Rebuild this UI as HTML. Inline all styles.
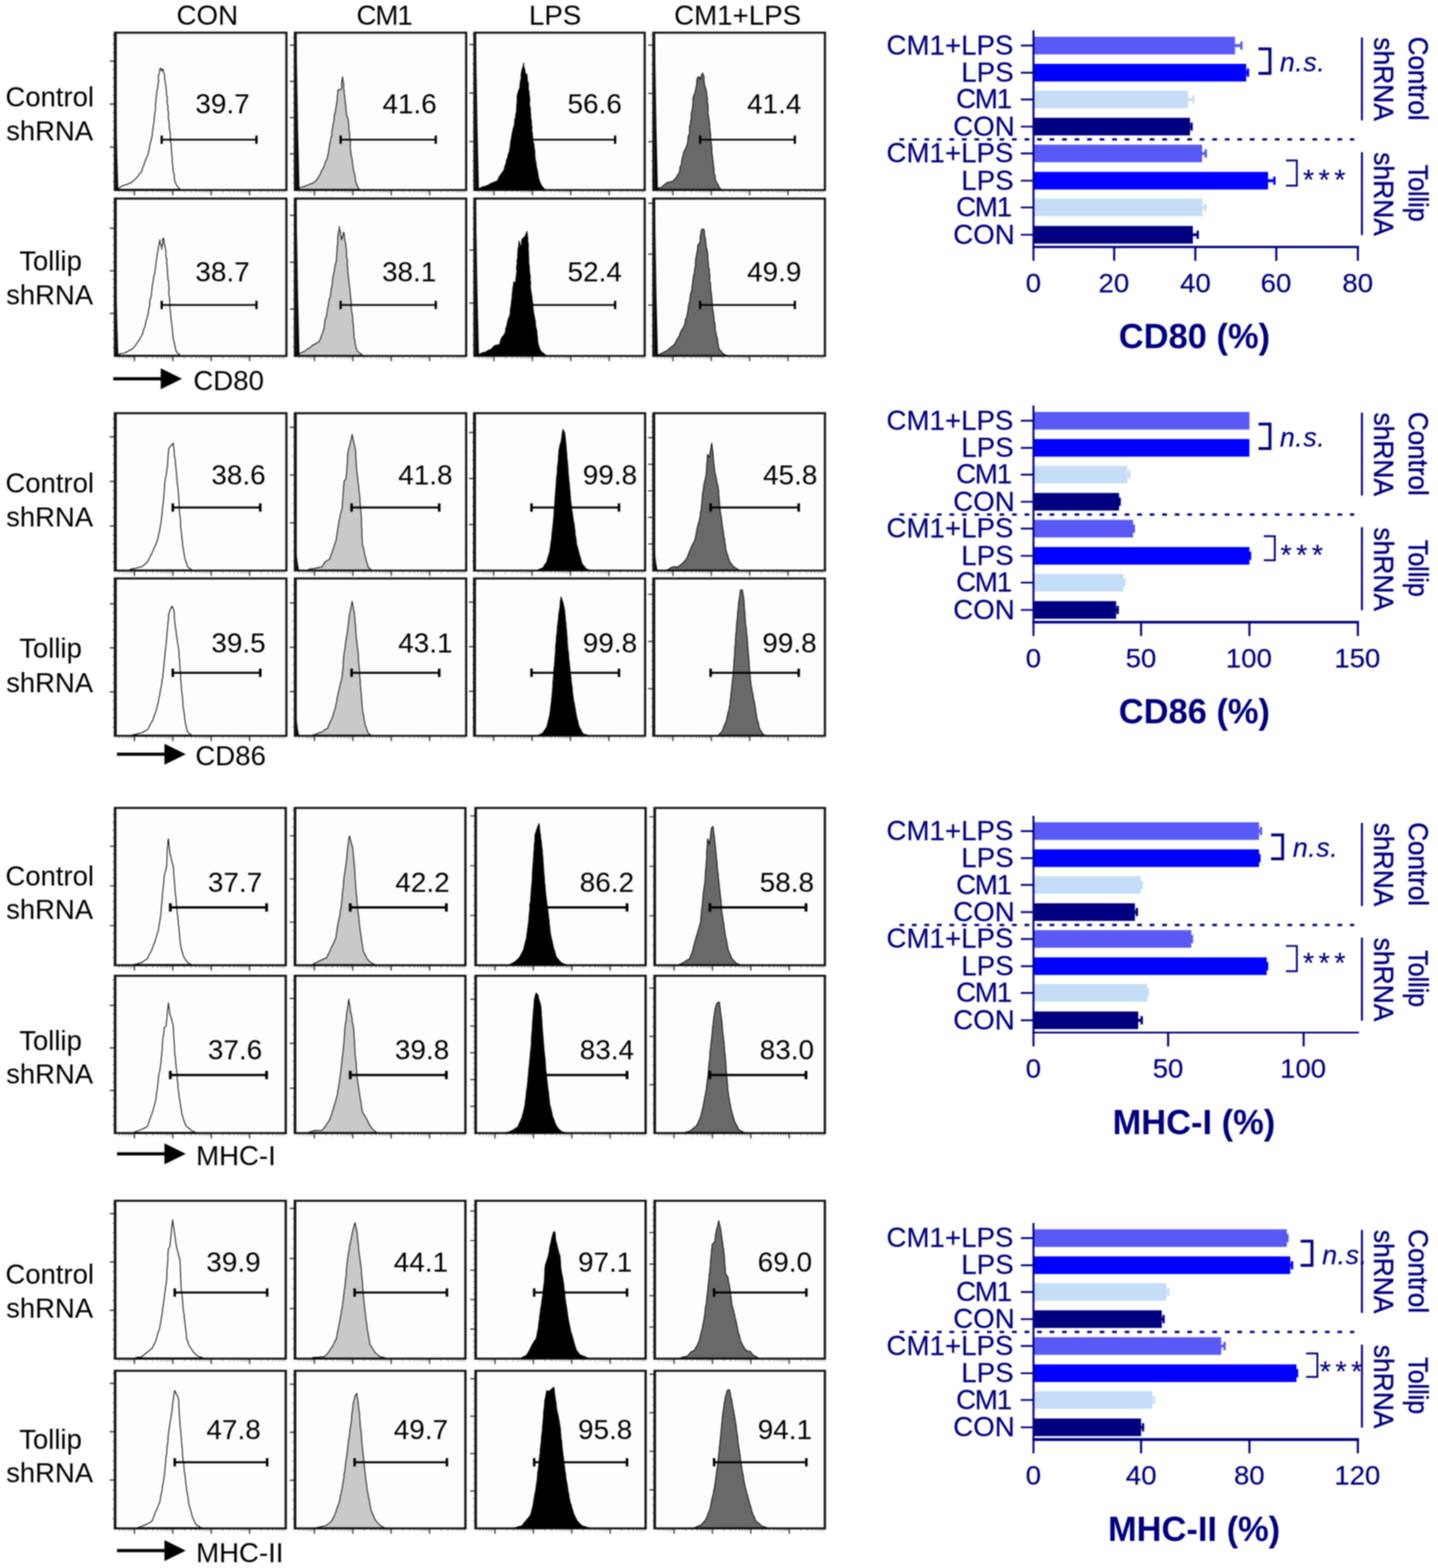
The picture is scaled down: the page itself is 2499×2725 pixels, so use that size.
<!DOCTYPE html>
<html lang="en"><head><meta charset="utf-8"><title>Tollip shRNA flow cytometry figure</title>
<style>
html,body{margin:0;padding:0;background:#fff;}
body{width:2499px;height:2725px;overflow:hidden;}
svg{display:block;font-family:"Liberation Sans", sans-serif;filter:blur(0.8px);}
text{white-space:pre;}
</style></head><body>
<svg xmlns="http://www.w3.org/2000/svg" width="2499" height="2725" viewBox="0 0 2499 2725">
<rect width="2499" height="2725" fill="#fff"/>
<path d="M207.16 331v4.6M213.62 331v4.6M218.9 331v4.6M223.37 331v4.6M227.24 331v4.6M230.65 331v4.6M253.78 331v4.6M265.52 331v4.6M273.86 331v4.6M280.32 331v4.6M285.6 331v4.6M290.07 331v4.6M293.94 331v4.6M297.35 331v4.6M320.48 331v4.6M332.22 331v4.6M340.56 331v4.6M347.02 331v4.6M352.3 331v4.6M356.77 331v4.6M360.64 331v4.6M364.05 331v4.6M387.18 331v4.6M398.92 331v4.6M407.26 331v4.6M413.72 331v4.6M419 331v4.6M423.47 331v4.6M427.34 331v4.6M430.75 331v4.6M453.88 331v4.6M465.62 331v4.6M473.96 331v4.6M480.42 331v4.6M485.7 331v4.6M490.17 331v4.6M494.04 331v4.6M198.7 315.36h-4M198.7 300.42h-4M198.7 285.48h-4M198.7 270.54h-4M198.7 240.66h-4M198.7 225.72h-4M198.7 210.78h-4M198.7 195.84h-4M198.7 165.96h-4M198.7 151.02h-4M198.7 136.08h-4M198.7 121.14h-4M198.7 91.26h-4M198.7 76.32h-4M198.7 61.38h-4" stroke="#3a3a3a" stroke-width="1.6" fill="none" opacity="0.42"/>
<path d="M233.7 331v8.5M300.4 331v8.5M367.1 331v8.5M433.8 331v8.5M198.7 255.6h-8M198.7 180.9h-8M198.7 106.2h-8" stroke="#222" stroke-width="2.2" fill="none" opacity="0.9"/>
<rect x="197.7" y="55" width="301.9" height="277" fill="#141414"/>
<rect x="202.9" y="58.6" width="292.9" height="270" fill="#fdfdfd"/>
<path d="M202.67 329.1L202.67 328.47L207.34 326.69L211.37 323.64L216.01 321.8L220.69 320.76L224.9 318.46L229.35 316.8L232.58 313.36L236.14 310.25L239.36 306.8L242.3 302.32L246.03 298.46L247.26 293.31L249.25 288.42L251.03 283.45L252.87 277.74L255.71 272.43L257.7 266.78L258.58 262.08L259.53 257.4L260.37 252.7L261.29 248.01L262.7 243.43L263.74 238.71L264.73 233.99L264.62 229.1L266.01 224.44L266 219.57L267.37 214.9L267.7 210.08L267.79 205.28L268.76 200.56L268.99 195.77L270.16 191.08L270.47 186.3L269.98 181.44L271.04 176.73L271 171.66L272.09 166.72L272.28 161.68L272.87 156.68L274.49 151.79L274.37 146.72L275.7 141.46L274.99 135.95L275.66 130.62L277.23 125.39L277.71 120.04L279.38 118.37L281.04 123.37L283.38 120.04L284.06 125.21L286.05 130.04L286.02 135.11L286.87 140.08L287.36 145.09L288.29 150.05L288.84 155.05L289.38 160.06L289.26 165.1L290.8 170.01L290.36 175.09L290.72 180.09L291.98 185.02L291.48 190.1L292.79 195.03L292.72 200.08L292.43 204.72L293.15 209.28L294.03 213.83L294.26 218.43L294.09 223.07L295.41 227.57L296.08 232.13L296.05 236.76L296.18 241.79L296.28 246.82L297.81 251.72L297.32 256.8L298.3 261.76L298.27 266.8L299 271.77L299.39 276.78L299.27 282.13L300.38 287.35L300.36 292.69L300.92 297.97L302.72 303.12L302.72 308.46L303.76 314.48L306.06 320.14L309.07 325.03L312.73 329.1L312.73 329.1Z" fill="none" stroke="#000" stroke-width="1.5" stroke-linejoin="round"/>
<path d="M202.4 209.1L204.07 281.1L205.5 328.1L205.5 329.1L202.4 329.1Z" fill="#050505"/>
<path d="M280 242.7H446.7" stroke="#000" stroke-width="3.1" fill="none"/><path d="M281 235.5v14.4M445.7 235.5v14.4" stroke="#000" stroke-width="3.9000000000000004" fill="none"/>
<path d="M520.06 331v4.6M526.52 331v4.6M531.8 331v4.6M536.27 331v4.6M540.14 331v4.6M543.55 331v4.6M566.68 331v4.6M578.42 331v4.6M586.76 331v4.6M593.22 331v4.6M598.5 331v4.6M602.97 331v4.6M606.84 331v4.6M610.25 331v4.6M633.38 331v4.6M645.12 331v4.6M653.46 331v4.6M659.92 331v4.6M665.2 331v4.6M669.67 331v4.6M673.54 331v4.6M676.95 331v4.6M700.08 331v4.6M711.82 331v4.6M720.16 331v4.6M726.62 331v4.6M731.9 331v4.6M736.37 331v4.6M740.24 331v4.6M743.65 331v4.6M766.78 331v4.6M778.52 331v4.6M786.86 331v4.6M793.32 331v4.6M798.6 331v4.6M803.07 331v4.6M806.94 331v4.6M511.6 317.7h-4M511.6 305.1h-4M511.6 292.5h-4M511.6 279.9h-4M511.6 254.7h-4M511.6 242.1h-4M511.6 229.5h-4M511.6 216.9h-4M511.6 191.7h-4M511.6 179.1h-4M511.6 166.5h-4M511.6 153.9h-4M511.6 128.7h-4M511.6 116.1h-4M511.6 103.5h-4M511.6 90.9h-4M511.6 65.7h-4" stroke="#3a3a3a" stroke-width="1.6" fill="none" opacity="0.42"/>
<path d="M546.6 331v8.5M613.3 331v8.5M680 331v8.5M746.7 331v8.5M511.6 267.3h-8M511.6 204.3h-8M511.6 141.3h-8M511.6 78.3h-8" stroke="#222" stroke-width="2.2" fill="none" opacity="0.9"/>
<rect x="510.6" y="55" width="301.4" height="277" fill="#141414"/>
<rect x="515.8" y="58.6" width="292.4" height="270" fill="#fdfdfd"/>
<path d="M513.49 329.1L513.49 328.47L518.82 326.78L524.24 325.38L529.5 323.47L535.13 321.41L540.73 319.3L546.18 316.8L549.99 312.72L553.15 308.13L556.18 303.46L557.95 298.79L560.25 294.38L562.85 290.12L564.45 285.1L566.03 280.06L568.51 275.33L569.52 270.11L570.86 264.84L571.47 259.43L572.3 254.06L573.12 248.69L574.52 243.43L575.51 238.45L576.82 233.53L576.53 228.34L577.79 223.41L578.46 218.38L579.53 213.42L580.52 208.44L580.83 203.35L581.38 198.3L583.12 193.45L583.41 188.35L584.53 183.4L585.21 178.08L586.07 172.78L586.05 167.4L587.01 162.11L586.86 156.72L592.87 155.05L593.98 149.69L593.55 144.13L594.49 138.75L595.53 133.38L595.76 138.07L596.5 142.71L597.67 147.31L596.92 152.1L597.87 156.72L598.12 161.51L598.92 166.24L599.26 171.02L600.26 175.73L600.18 180.55L601.26 185.25L601.2 190.07L601.96 195.45L602.55 200.86L604.62 206L605.55 211.35L606.21 216.75L606.43 221.43L606.31 226.13L607.7 230.72L607.7 235.41L607.72 240.11L608.71 244.73L609.18 249.39L608.5 254.13L609.02 258.78L609.54 263.44L610.14 268.22L610.9 272.98L612.27 277.64L612.43 282.49L613.13 287.26L613.81 292.03L614.54 296.79L616.04 301.35L617.18 305.99L617.52 310.8L618.26 315.53L619.55 320.14L621.82 324.92L624.55 329.1L624.55 329.1Z" fill="#c9c9c9" stroke="#0a0a0a" stroke-width="1.5" stroke-linejoin="round"/>
<path d="M515.3 61.1L517.87 221.9L520.4 328.1L520.4 329.1L515.3 329.1Z" fill="#050505"/>
<path d="M591 242.7H758.3" stroke="#000" stroke-width="3.1" fill="none"/><path d="M592 235.5v14.4M757.3 235.5v14.4" stroke="#000" stroke-width="3.9000000000000004" fill="none"/>
<path d="M831.96 331v4.6M838.42 331v4.6M843.7 331v4.6M848.17 331v4.6M852.04 331v4.6M855.45 331v4.6M878.58 331v4.6M890.32 331v4.6M898.66 331v4.6M905.12 331v4.6M910.4 331v4.6M914.87 331v4.6M918.74 331v4.6M922.15 331v4.6M945.28 331v4.6M957.02 331v4.6M965.36 331v4.6M971.82 331v4.6M977.1 331v4.6M981.57 331v4.6M985.44 331v4.6M988.85 331v4.6M1011.98 331v4.6M1023.72 331v4.6M1032.06 331v4.6M1038.52 331v4.6M1043.8 331v4.6M1048.27 331v4.6M1052.14 331v4.6M1055.55 331v4.6M1078.68 331v4.6M1090.42 331v4.6M1098.76 331v4.6M1105.22 331v4.6M1110.5 331v4.6M1114.97 331v4.6M1118.84 331v4.6M823.5 313.44h-4M823.5 296.58h-4M823.5 279.72h-4M823.5 262.86h-4M823.5 229.14h-4M823.5 212.28h-4M823.5 195.42h-4M823.5 178.56h-4M823.5 144.84h-4M823.5 127.98h-4M823.5 111.12h-4M823.5 94.26h-4M823.5 60.54h-4" stroke="#3a3a3a" stroke-width="1.6" fill="none" opacity="0.42"/>
<path d="M858.5 331v8.5M925.2 331v8.5M991.9 331v8.5M1058.6 331v8.5M823.5 246h-8M823.5 161.7h-8M823.5 77.4h-8" stroke="#222" stroke-width="2.2" fill="none" opacity="0.9"/>
<rect x="822.5" y="55" width="299.8" height="277" fill="#141414"/>
<rect x="827.7" y="58.6" width="290.8" height="270" fill="#fdfdfd"/>
<path d="M825 329.1L825 328.47L833.34 327.47L838.08 324.82L843.35 323.47L848.59 321.46L853.35 318.47L859.32 316.27L865.02 313.47L866.88 308.14L870.03 303.46L873.09 299.34L876.03 295.12L876.98 289.47L879.25 284.14L880.03 278.45L882.2 273.61L883.08 268.35L885.03 263.44L886.01 258.04L886.69 252.6L887.21 247.13L888.37 241.76L889.1 237.16L889.88 232.56L890.82 228L891.7 223.42L893.45 218.56L894.21 213.49L894.28 208.27L896.04 203.41L896.23 198.39L897.57 193.46L897.68 188.44L897.86 183.41L898.34 178.42L898.81 173.42L898.45 168.35L899.37 163.39L901.24 157.51L903.38 151.72L903.71 146.4L904.25 141.1L905.66 135.91L905.35 130.51L906.23 125.26L907.38 120.04L909.02 114.78L910.05 109.36L910.35 115.23L912.12 120.88L912.71 126.71L916.05 130.04L916.11 135.1L916.72 140.1L918.32 144.99L918.38 150.05L918.13 154.91L919.62 159.65L919.54 164.5L920.49 169.27L920.84 174.09L920.36 178.97L920.47 183.81L921.93 188.54L921.72 193.41L922.39 197.97L922.39 202.59L922.83 207.17L923.92 211.7L923.51 216.36L924.81 220.87L923.99 225.56L925.05 230.09L925.47 235.46L926.14 240.79L926.42 246.18L928.11 251.38L928.39 256.77L929.5 262.05L929.53 267.47L929.8 272.85L930.41 278.19L931.72 283.45L932.12 288.53L933.24 293.48L934.43 298.42L935.06 303.46L936.31 310.23L938.39 316.8L941.73 323.47L946.73 329.1L946.73 329.1Z" fill="#000000" stroke="#000000" stroke-width="1.2" stroke-linejoin="round"/>
<path d="M827.2 61.1L829.77 221.9L832.3 328.1L832.3 329.1L827.2 329.1Z" fill="#050505"/>
<path d="M903.3 242.7H1070" stroke="#000" stroke-width="3.1" fill="none"/><path d="M904.3 235.5v14.4M1069 235.5v14.4" stroke="#000" stroke-width="3.9000000000000004" fill="none"/>
<path d="M1142.96 331v4.6M1149.42 331v4.6M1154.7 331v4.6M1159.17 331v4.6M1163.04 331v4.6M1166.45 331v4.6M1189.58 331v4.6M1201.32 331v4.6M1209.66 331v4.6M1216.12 331v4.6M1221.4 331v4.6M1225.87 331v4.6M1229.74 331v4.6M1233.15 331v4.6M1256.28 331v4.6M1268.02 331v4.6M1276.36 331v4.6M1282.82 331v4.6M1288.1 331v4.6M1292.57 331v4.6M1296.44 331v4.6M1299.85 331v4.6M1322.98 331v4.6M1334.72 331v4.6M1343.06 331v4.6M1349.52 331v4.6M1354.8 331v4.6M1359.27 331v4.6M1363.14 331v4.6M1366.55 331v4.6M1389.68 331v4.6M1401.42 331v4.6M1409.76 331v4.6M1416.22 331v4.6M1421.5 331v4.6M1425.97 331v4.6M1429.84 331v4.6M1134.5 313.5h-4M1134.5 296.7h-4M1134.5 279.9h-4M1134.5 263.1h-4M1134.5 229.5h-4M1134.5 212.7h-4M1134.5 195.9h-4M1134.5 179.1h-4M1134.5 145.5h-4M1134.5 128.7h-4M1134.5 111.9h-4M1134.5 95.1h-4M1134.5 61.5h-4" stroke="#3a3a3a" stroke-width="1.6" fill="none" opacity="0.42"/>
<path d="M1169.5 331v8.5M1236.2 331v8.5M1302.9 331v8.5M1369.6 331v8.5M1134.5 246.3h-8M1134.5 162.3h-8M1134.5 78.3h-8" stroke="#222" stroke-width="2.2" fill="none" opacity="0.9"/>
<rect x="1133.5" y="55" width="302" height="277" fill="#141414"/>
<rect x="1138.7" y="58.6" width="293" height="270" fill="#fdfdfd"/>
<path d="M1140.16 329.1L1140.16 328.47L1145.04 326.44L1150.17 325.14L1154.78 320.51L1160.17 316.8L1168.51 315.13L1172.02 311.97L1175.18 308.46L1177.35 304.1L1180.18 300.13L1181.36 295.5L1181.67 290.68L1183.89 286.27L1184.44 281.5L1185.18 276.78L1186.55 271.13L1187.89 265.48L1190.19 260.11L1192.33 255.84L1194.08 251.42L1195.19 246.77L1195.57 242.15L1195.85 237.51L1197.77 233.1L1198.28 228.5L1198.26 223.83L1198.36 219.17L1199.94 214.72L1200.19 210.08L1201.45 205.34L1201.01 200.41L1201.66 195.61L1202.96 190.87L1203.34 186.04L1204.15 181.25L1204.26 176.38L1204.24 171.5L1205.19 166.73L1207.5 161.94L1208.53 156.72L1209.82 151.37L1210.74 145.96L1210.78 140.42L1211.86 135.04L1215.2 133.38L1216.87 138.38L1218.59 132.45L1220.87 126.71L1223.54 133.38L1223.38 139L1224.01 144.56L1225.2 150.05L1226.9 155.49L1228.04 161.04L1228.54 166.73L1229.5 171.68L1229.13 176.75L1230.16 181.7L1230.7 186.69L1230.59 191.74L1230.35 196.8L1231.49 201.74L1231.87 206.75L1232.91 211.27L1233.24 215.87L1233.42 220.47L1233.79 225.06L1234.39 229.63L1235 234.2L1235.03 238.82L1235.21 243.43L1236.1 248.15L1236.6 252.91L1237.26 257.66L1237.01 262.5L1237.21 267.29L1238.29 271.99L1238.54 276.78L1239.59 281.39L1239.59 286.11L1240.58 290.72L1240.96 295.4L1240.88 300.13L1242.67 305.59L1243.18 311.39L1245.21 316.8L1248.31 321.5L1250.22 326.81L1253.55 329.1L1253.55 329.1Z" fill="#696969" stroke="#0a0a0a" stroke-width="1.5" stroke-linejoin="round"/>
<path d="M1138.2 61.1L1140.77 221.9L1143.3 328.1L1143.3 329.1L1138.2 329.1Z" fill="#050505"/>
<path d="M1215.7 242.7H1382.3" stroke="#000" stroke-width="3.1" fill="none"/><path d="M1216.7 235.5v14.4M1381.3 235.5v14.4" stroke="#000" stroke-width="3.9000000000000004" fill="none"/>
<path d="M207.16 619.3v4.6M213.62 619.3v4.6M218.9 619.3v4.6M223.37 619.3v4.6M227.24 619.3v4.6M230.65 619.3v4.6M253.78 619.3v4.6M265.52 619.3v4.6M273.86 619.3v4.6M280.32 619.3v4.6M285.6 619.3v4.6M290.07 619.3v4.6M293.94 619.3v4.6M297.35 619.3v4.6M320.48 619.3v4.6M332.22 619.3v4.6M340.56 619.3v4.6M347.02 619.3v4.6M352.3 619.3v4.6M356.77 619.3v4.6M360.64 619.3v4.6M364.05 619.3v4.6M387.18 619.3v4.6M398.92 619.3v4.6M407.26 619.3v4.6M413.72 619.3v4.6M419 619.3v4.6M423.47 619.3v4.6M427.34 619.3v4.6M430.75 619.3v4.6M453.88 619.3v4.6M465.62 619.3v4.6M473.96 619.3v4.6M480.42 619.3v4.6M485.7 619.3v4.6M490.17 619.3v4.6M494.04 619.3v4.6M198.7 603.8h-4M198.7 589h-4M198.7 574.2h-4M198.7 559.4h-4M198.7 529.8h-4M198.7 515h-4M198.7 500.2h-4M198.7 485.4h-4M198.7 455.8h-4M198.7 441h-4M198.7 426.2h-4M198.7 411.4h-4M198.7 381.8h-4M198.7 367h-4M198.7 352.2h-4" stroke="#3a3a3a" stroke-width="1.6" fill="none" opacity="0.42"/>
<path d="M233.7 619.3v8.5M300.4 619.3v8.5M367.1 619.3v8.5M433.8 619.3v8.5M198.7 544.6h-8M198.7 470.6h-8M198.7 396.6h-8" stroke="#222" stroke-width="2.2" fill="none" opacity="0.9"/>
<rect x="197.7" y="343.3" width="301.9" height="277" fill="#141414"/>
<rect x="202.9" y="346.9" width="292.9" height="270" fill="#fdfdfd"/>
<path d="M202.67 617.4L202.67 616.95L209.19 614.68L216.01 613.62L220.51 611.5L224.83 609.03L229.35 606.95L234 602.34L237.69 596.94L240.61 592.58L243.27 588.06L246.03 583.6L248.32 578.81L249.06 573.49L251.52 568.76L252.7 563.59L253.69 558.56L255.18 553.64L256.72 548.74L257.59 543.68L258.41 538.61L259.37 533.58L260.53 528.88L260.09 523.94L261.4 519.27L262.76 514.6L263.31 509.81L263.58 504.98L264.37 500.23L264.8 495.16L265.81 490.18L266.76 485.2L267.13 480.12L269.18 475.32L269.37 470.21L270.3 465.48L270.84 460.69L271.04 455.85L271.97 451.11L272.81 446.37L273.13 441.55L274.37 436.86L274.96 431.82L275.84 426.82L277.22 421.91L277.71 416.85L278.22 422.53L280.65 427.82L281.04 433.53L281.17 428.45L282.9 423.59L282.31 418.42L283.71 413.52L285.07 418.45L285.62 423.54L286.66 428.53L287.71 433.53L288.55 438.07L288.17 442.73L288.65 447.31L290.12 451.8L289.48 456.48L290.4 461.02L290.64 465.62L291.05 470.21L291.27 474.89L291.49 479.56L291.6 484.25L292.86 488.85L293.18 493.52L293.49 498.19L293.86 502.86L293.28 507.59L293.51 512.27L294.38 516.9L295 521.89L294.94 526.93L295.2 531.94L295.51 536.96L296.06 541.95L296.76 546.93L296.85 551.95L297.72 556.92L298.46 561.66L298.53 566.46L299.49 571.18L299.77 575.96L300.28 580.72L300.58 585.51L301.05 590.27L303.03 595.09L303.65 600.25L304.81 605.28L306.06 610.28L308.96 614.05L312.73 616.95L312.73 617.4Z" fill="none" stroke="#000" stroke-width="1.5" stroke-linejoin="round"/>
<path d="M202.4 497.4L204.07 569.4L205.5 616.4L205.5 617.4L202.4 617.4Z" fill="#050505"/>
<path d="M280 530H446.7" stroke="#000" stroke-width="3.1" fill="none"/><path d="M281 522.8v14.4M445.7 522.8v14.4" stroke="#000" stroke-width="3.9000000000000004" fill="none"/>
<path d="M520.06 619.3v4.6M526.52 619.3v4.6M531.8 619.3v4.6M536.27 619.3v4.6M540.14 619.3v4.6M543.55 619.3v4.6M566.68 619.3v4.6M578.42 619.3v4.6M586.76 619.3v4.6M593.22 619.3v4.6M598.5 619.3v4.6M602.97 619.3v4.6M606.84 619.3v4.6M610.25 619.3v4.6M633.38 619.3v4.6M645.12 619.3v4.6M653.46 619.3v4.6M659.92 619.3v4.6M665.2 619.3v4.6M669.67 619.3v4.6M673.54 619.3v4.6M676.95 619.3v4.6M700.08 619.3v4.6M711.82 619.3v4.6M720.16 619.3v4.6M726.62 619.3v4.6M731.9 619.3v4.6M736.37 619.3v4.6M740.24 619.3v4.6M743.65 619.3v4.6M766.78 619.3v4.6M778.52 619.3v4.6M786.86 619.3v4.6M793.32 619.3v4.6M798.6 619.3v4.6M803.07 619.3v4.6M806.94 619.3v4.6M511.6 602.3h-4M511.6 586h-4M511.6 569.7h-4M511.6 553.4h-4M511.6 520.8h-4M511.6 504.5h-4M511.6 488.2h-4M511.6 471.9h-4M511.6 439.3h-4M511.6 423h-4M511.6 406.7h-4M511.6 390.4h-4M511.6 357.8h-4" stroke="#3a3a3a" stroke-width="1.6" fill="none" opacity="0.42"/>
<path d="M546.6 619.3v8.5M613.3 619.3v8.5M680 619.3v8.5M746.7 619.3v8.5M511.6 537.1h-8M511.6 455.6h-8M511.6 374.1h-8" stroke="#222" stroke-width="2.2" fill="none" opacity="0.9"/>
<rect x="510.6" y="343.3" width="301.4" height="277" fill="#141414"/>
<rect x="515.8" y="346.9" width="292.4" height="270" fill="#fdfdfd"/>
<path d="M513.49 617.4L513.49 616.95L518.83 614.74L524.22 612.64L529.5 610.28L533.77 606.71L538.78 604.13L542.84 600.28L548.85 597.24L554.51 593.61L557.1 588.19L558.9 582.47L561.18 576.93L562.63 572.26L563.43 567.47L564.18 562.66L564.41 557.76L565.87 553.09L567.59 548.48L567.85 543.58L568.89 538.83L569.58 534.02L570.9 529.33L571.14 524.42L572.36 519.71L573.98 515.08L574.52 510.23L575.19 505.46L575.78 500.68L577.37 496.04L577.41 491.18L578.02 486.4L578.19 481.55L579.53 476.88L580.67 471.57L581.52 466.21L582.21 460.81L584.16 455.66L584.53 450.2L585.04 444.97L585.25 439.72L586.07 434.51L585.71 429.23L586.91 424.04L586.81 418.77L586.86 413.52L587.35 408.49L588.13 403.5L589.56 398.6L589.53 393.51L590.17 398.2L591.85 402.72L591.41 407.6L592.86 412.16L593.53 416.85L594.47 412.32L595.96 407.95L597.2 403.51L598.44 408.1L598.56 412.89L599.43 417.55L600.46 422.18L601.2 426.86L601.65 431.86L602.28 436.84L602.17 441.89L602.37 446.91L603.96 451.81L603.51 456.89L603.66 461.91L604.54 466.88L604.3 471.95L605.12 476.92L605.36 481.95L606.33 486.91L606.52 491.94L607.18 496.93L608.41 501.86L608.22 506.93L608.86 511.92L609.54 516.9L609.91 521.91L610.76 526.87L610.13 531.96L610.75 536.95L611.2 541.95L612.43 546.88L612.95 551.88L612.88 556.92L613.85 561.88L614.05 566.91L614.61 571.9L614.51 576.97L615.53 581.92L615.14 587.01L617.04 591.87L616.88 596.94L618.47 601.34L619.23 606.01L621.21 610.28L625.38 613.62L629.55 616.95L629.55 617.4Z" fill="#c9c9c9" stroke="#0a0a0a" stroke-width="1.5" stroke-linejoin="round"/>
<path d="M515.3 349.4L517.87 510.2L520.4 616.4L520.4 617.4L515.3 617.4Z" fill="#050505"/>
<path d="M591 530H758.3" stroke="#000" stroke-width="3.1" fill="none"/><path d="M592 522.8v14.4M757.3 522.8v14.4" stroke="#000" stroke-width="3.9000000000000004" fill="none"/>
<path d="M831.96 619.3v4.6M838.42 619.3v4.6M843.7 619.3v4.6M848.17 619.3v4.6M852.04 619.3v4.6M855.45 619.3v4.6M878.58 619.3v4.6M890.32 619.3v4.6M898.66 619.3v4.6M905.12 619.3v4.6M910.4 619.3v4.6M914.87 619.3v4.6M918.74 619.3v4.6M922.15 619.3v4.6M945.28 619.3v4.6M957.02 619.3v4.6M965.36 619.3v4.6M971.82 619.3v4.6M977.1 619.3v4.6M981.57 619.3v4.6M985.44 619.3v4.6M988.85 619.3v4.6M1011.98 619.3v4.6M1023.72 619.3v4.6M1032.06 619.3v4.6M1038.52 619.3v4.6M1043.8 619.3v4.6M1048.27 619.3v4.6M1052.14 619.3v4.6M1055.55 619.3v4.6M1078.68 619.3v4.6M1090.42 619.3v4.6M1098.76 619.3v4.6M1105.22 619.3v4.6M1110.5 619.3v4.6M1114.97 619.3v4.6M1118.84 619.3v4.6M823.5 600.2h-4M823.5 581.8h-4M823.5 563.4h-4M823.5 545h-4M823.5 508.2h-4M823.5 489.8h-4M823.5 471.4h-4M823.5 453h-4M823.5 416.2h-4M823.5 397.8h-4M823.5 379.4h-4M823.5 361h-4" stroke="#3a3a3a" stroke-width="1.6" fill="none" opacity="0.42"/>
<path d="M858.5 619.3v8.5M925.2 619.3v8.5M991.9 619.3v8.5M1058.6 619.3v8.5M823.5 526.6h-8M823.5 434.6h-8" stroke="#222" stroke-width="2.2" fill="none" opacity="0.9"/>
<rect x="822.5" y="343.3" width="299.8" height="277" fill="#141414"/>
<rect x="827.7" y="346.9" width="290.8" height="270" fill="#fdfdfd"/>
<path d="M825 617.4L825 616.95L833.34 615.28L838.13 612.98L843.35 611.95L848.07 608.89L853.35 606.95L856.59 603.51L860.02 600.28L868.36 598.61L869.46 592.61L871.69 586.94L875.53 582.27L878.36 576.93L878.79 571.24L880.64 565.82L881.7 560.26L883.12 554.62L885.54 549.29L886.7 543.58L886.86 538.18L887.79 532.88L888.45 527.54L888.99 522.19L890.04 516.9L889.82 511.49L891.01 506.22L891.02 500.83L892.32 495.57L892.7 490.22L896.71 490.22L896.33 485.51L896.96 480.87L897.43 476.21L898.38 471.58L897.43 466.84L897.77 462.18L899.01 457.56L898.12 452.83L899.72 448.23L899.37 443.53L899.95 438.54L899.96 433.49L901.28 428.57L901.64 423.56L901.71 418.52L903.6 424.29L905.04 430.19L906.27 425.26L906.16 420.12L907.38 415.18L911.71 411.85L913.87 406.91L915.71 401.84L916.51 407.68L917.38 413.52L917.16 418.39L918.14 423.2L918.26 428.06L917.95 432.94L918.58 437.77L918.56 442.63L918.87 447.48L919.07 452.33L918.98 457.2L919.83 462.02L920.05 466.88L920.17 471.71L920.98 476.5L921.86 481.27L921.15 486.17L922.38 490.92L921.79 495.82L922.03 500.64L922.78 505.43L923.39 510.23L924.45 514.94L924.77 519.73L925.26 524.5L926.31 529.21L926.31 534.04L926.71 538.83L927.39 543.58L928.5 548.88L929.58 554.18L930.6 559.49L930.67 564.96L931.72 570.26L933.11 575.51L933.28 580.9L934.13 586.22L934.34 591.61L935.06 596.94L936.41 601.5L937.82 606.05L940.06 610.28L944.1 613.78L948.4 616.95L948.4 617.4Z" fill="#000000" stroke="#000000" stroke-width="1.2" stroke-linejoin="round"/>
<path d="M827.2 349.4L829.77 510.2L832.3 616.4L832.3 617.4L827.2 617.4Z" fill="#050505"/>
<path d="M903.3 530H1070" stroke="#000" stroke-width="3.1" fill="none"/><path d="M904.3 522.8v14.4M1069 522.8v14.4" stroke="#000" stroke-width="3.9000000000000004" fill="none"/>
<path d="M1142.96 619.3v4.6M1149.42 619.3v4.6M1154.7 619.3v4.6M1159.17 619.3v4.6M1163.04 619.3v4.6M1166.45 619.3v4.6M1189.58 619.3v4.6M1201.32 619.3v4.6M1209.66 619.3v4.6M1216.12 619.3v4.6M1221.4 619.3v4.6M1225.87 619.3v4.6M1229.74 619.3v4.6M1233.15 619.3v4.6M1256.28 619.3v4.6M1268.02 619.3v4.6M1276.36 619.3v4.6M1282.82 619.3v4.6M1288.1 619.3v4.6M1292.57 619.3v4.6M1296.44 619.3v4.6M1299.85 619.3v4.6M1322.98 619.3v4.6M1334.72 619.3v4.6M1343.06 619.3v4.6M1349.52 619.3v4.6M1354.8 619.3v4.6M1359.27 619.3v4.6M1363.14 619.3v4.6M1366.55 619.3v4.6M1389.68 619.3v4.6M1401.42 619.3v4.6M1409.76 619.3v4.6M1416.22 619.3v4.6M1421.5 619.3v4.6M1425.97 619.3v4.6M1429.84 619.3v4.6M1134.5 600.9h-4M1134.5 583.2h-4M1134.5 565.5h-4M1134.5 547.8h-4M1134.5 512.4h-4M1134.5 494.7h-4M1134.5 477h-4M1134.5 459.3h-4M1134.5 423.9h-4M1134.5 406.2h-4M1134.5 388.5h-4M1134.5 370.8h-4" stroke="#3a3a3a" stroke-width="1.6" fill="none" opacity="0.42"/>
<path d="M1169.5 619.3v8.5M1236.2 619.3v8.5M1302.9 619.3v8.5M1369.6 619.3v8.5M1134.5 530.1h-8M1134.5 441.6h-8M1134.5 353.1h-8" stroke="#222" stroke-width="2.2" fill="none" opacity="0.9"/>
<rect x="1133.5" y="343.3" width="302" height="277" fill="#141414"/>
<rect x="1138.7" y="346.9" width="293" height="270" fill="#fdfdfd"/>
<path d="M1140.16 617.4L1140.16 616.95L1145.38 615.94L1150.17 613.62L1155.2 611.18L1160.17 608.61L1164.86 604.07L1170.18 600.28L1173.55 596.2L1175.63 591.32L1178.51 586.94L1180.98 582.96L1182.05 578.28L1184.32 574.2L1186.85 570.26L1189.18 565.48L1190.63 560.4L1191.17 555.03L1193.52 550.25L1194.48 544.91L1195.41 539.56L1196.12 534.17L1196.93 528.8L1198.52 523.57L1199.08 518.52L1199.66 513.48L1200.57 508.49L1202.4 503.65L1202.48 498.52L1203.53 493.56L1203.85 488.93L1204.63 484.36L1204.82 479.72L1206.62 475.29L1206.67 470.63L1207.52 466.07L1208.63 461.55L1208.53 456.87L1208.67 451.51L1210.07 446.32L1210.66 441.02L1211.82 435.8L1212.3 430.49L1212.86 425.19L1216.2 421.85L1216.7 416.42L1216.82 410.95L1218 405.6L1218.53 400.18L1221.2 397.51L1224.2 400.18L1224.3 404.89L1224.6 409.59L1225.87 414.17L1226.32 418.85L1226.87 423.52L1227.26 428.6L1228.62 433.51L1229.51 438.5L1230.21 443.53L1230.27 448.56L1230.47 453.58L1231.05 458.57L1231.23 463.59L1232.78 468.5L1232.66 473.55L1233.78 478.49L1233.54 483.55L1233.36 488.38L1234.89 493.04L1234.93 497.85L1235.16 502.64L1235.97 507.37L1236.44 512.13L1236.88 516.9L1237.42 521.9L1237.76 526.92L1238.17 531.93L1238.54 536.94L1239.42 541.91L1240.02 546.9L1240.89 551.87L1240.88 556.92L1242.45 562.14L1242.89 567.55L1242.81 573.04L1244.39 578.26L1245.21 583.6L1246.72 588.16L1247.25 592.93L1247.87 597.68L1248.73 602.38L1250.22 606.95L1253.71 610.99L1256.89 615.28L1261.89 616.95L1261.89 617.4Z" fill="#696969" stroke="#0a0a0a" stroke-width="1.5" stroke-linejoin="round"/>
<path d="M1138.2 349.4L1140.77 510.2L1143.3 616.4L1143.3 617.4L1138.2 617.4Z" fill="#050505"/>
<path d="M1215.7 530H1382.3" stroke="#000" stroke-width="3.1" fill="none"/><path d="M1216.7 522.8v14.4M1381.3 522.8v14.4" stroke="#000" stroke-width="3.9000000000000004" fill="none"/>
<path d="M207.16 992.3v4.6M213.62 992.3v4.6M218.9 992.3v4.6M223.37 992.3v4.6M227.24 992.3v4.6M230.65 992.3v4.6M253.78 992.3v4.6M265.52 992.3v4.6M273.86 992.3v4.6M280.32 992.3v4.6M285.6 992.3v4.6M290.07 992.3v4.6M293.94 992.3v4.6M297.35 992.3v4.6M320.48 992.3v4.6M332.22 992.3v4.6M340.56 992.3v4.6M347.02 992.3v4.6M352.3 992.3v4.6M356.77 992.3v4.6M360.64 992.3v4.6M364.05 992.3v4.6M387.18 992.3v4.6M398.92 992.3v4.6M407.26 992.3v4.6M413.72 992.3v4.6M419 992.3v4.6M423.47 992.3v4.6M427.34 992.3v4.6M430.75 992.3v4.6M453.88 992.3v4.6M465.62 992.3v4.6M473.96 992.3v4.6M480.42 992.3v4.6M485.7 992.3v4.6M490.17 992.3v4.6M494.04 992.3v4.6M198.7 976.1h-4M198.7 960.6h-4M198.7 945.1h-4M198.7 929.6h-4M198.7 898.6h-4M198.7 883.1h-4M198.7 867.6h-4M198.7 852.1h-4M198.7 821.1h-4M198.7 805.6h-4M198.7 790.1h-4M198.7 774.6h-4M198.7 743.6h-4M198.7 728.1h-4" stroke="#3a3a3a" stroke-width="1.6" fill="none" opacity="0.42"/>
<path d="M233.7 992.3v8.5M300.4 992.3v8.5M367.1 992.3v8.5M433.8 992.3v8.5M198.7 914.1h-8M198.7 836.6h-8M198.7 759.1h-8" stroke="#222" stroke-width="2.2" fill="none" opacity="0.9"/>
<rect x="197.7" y="716.3" width="301.9" height="277" fill="#141414"/>
<rect x="202.9" y="719.9" width="292.9" height="270" fill="#fdfdfd"/>
<path d="M226.02 990.4L226.02 989.47L231.03 988.43L236.06 987.47L240.95 985.89L246.03 985.14L251.2 981.17L256.03 976.8L258.61 971.84L261.13 966.84L263.75 961.9L266.04 956.79L268.02 951.75L270.4 946.87L272.4 941.83L274.37 936.78L275.12 931.4L276.52 926.13L277.44 920.78L278.59 915.48L279.38 910.1L280.18 905.36L280.63 900.58L281.17 895.82L281.96 891.08L282.01 886.25L282.57 881.49L283.38 876.75L283.9 871.76L284.33 866.76L284.95 861.77L285.2 856.75L285.49 851.74L286.16 846.76L286.04 841.71L286.71 836.73L287.4 831.37L288.78 826.11L289.46 820.75L290.28 815.4L291.05 810.05L291.45 805.05L291.52 800.02L292.13 795.04L292.4 790.02L292.82 785.02L293.38 780.04L296.05 775.03L298.72 773.37L301.05 770.03L301.63 775.59L302.44 781.12L302.72 786.71L303.05 791.73L304.08 796.68L304.73 801.67L304.94 806.72L305.66 811.7L306.06 816.72L306.73 821.46L306.85 826.26L307.39 831.02L307.72 835.8L308.11 840.57L309.07 845.29L309.39 850.07L309.7 854.74L310.17 859.4L310.57 864.06L310.88 868.73L311.16 873.41L311.41 878.08L311.59 882.76L311.73 887.45L312.12 892.11L312.73 896.76L313.44 901.74L313.74 906.75L313.68 911.79L314.09 916.79L314.78 921.77L315.42 926.76L315.94 931.75L316.06 936.78L317.1 941.5L317.18 946.35L318.02 951.1L318.87 955.84L319.54 960.62L320.45 965.35L321.06 970.13L322.72 975.13L324.59 980.07L326.07 985.14L332.74 990.14L332.74 990.4Z" fill="none" stroke="#000" stroke-width="1.5" stroke-linejoin="round"/>
<path d="M299.3 882H453.3" stroke="#000" stroke-width="3.6" fill="none"/><path d="M300.3 874.8v14.4M452.3 874.8v14.4" stroke="#000" stroke-width="4.4" fill="none"/>
<path d="M520.06 992.3v4.6M526.52 992.3v4.6M531.8 992.3v4.6M536.27 992.3v4.6M540.14 992.3v4.6M543.55 992.3v4.6M566.68 992.3v4.6M578.42 992.3v4.6M586.76 992.3v4.6M593.22 992.3v4.6M598.5 992.3v4.6M602.97 992.3v4.6M606.84 992.3v4.6M610.25 992.3v4.6M633.38 992.3v4.6M645.12 992.3v4.6M653.46 992.3v4.6M659.92 992.3v4.6M665.2 992.3v4.6M669.67 992.3v4.6M673.54 992.3v4.6M676.95 992.3v4.6M700.08 992.3v4.6M711.82 992.3v4.6M720.16 992.3v4.6M726.62 992.3v4.6M731.9 992.3v4.6M736.37 992.3v4.6M740.24 992.3v4.6M743.65 992.3v4.6M766.78 992.3v4.6M778.52 992.3v4.6M786.86 992.3v4.6M793.32 992.3v4.6M798.6 992.3v4.6M803.07 992.3v4.6M806.94 992.3v4.6M511.6 975h-4M511.6 958.4h-4M511.6 941.8h-4M511.6 925.2h-4M511.6 892h-4M511.6 875.4h-4M511.6 858.8h-4M511.6 842.2h-4M511.6 809h-4M511.6 792.4h-4M511.6 775.8h-4M511.6 759.2h-4M511.6 726h-4" stroke="#3a3a3a" stroke-width="1.6" fill="none" opacity="0.42"/>
<path d="M546.6 992.3v8.5M613.3 992.3v8.5M680 992.3v8.5M746.7 992.3v8.5M511.6 908.6h-8M511.6 825.6h-8M511.6 742.6h-8" stroke="#222" stroke-width="2.2" fill="none" opacity="0.9"/>
<rect x="510.6" y="716.3" width="301.4" height="277" fill="#141414"/>
<rect x="515.8" y="719.9" width="292.4" height="270" fill="#fdfdfd"/>
<path d="M536.17 990.4L536.17 989.47L540.83 988.53L545.57 988.07L550.2 987.01L554.79 985.7L559.52 985.14L562.05 980.99L564.52 976.8L568.56 974.09L572.86 971.8L574.22 966.69L576.41 961.86L577.86 956.79L579.85 951.9L581.21 946.79L582.95 941.81L584.53 936.78L584.99 931.98L585.67 927.21L586.53 922.47L587.09 917.68L588.29 912.99L588.58 908.16L589.53 903.43L590.76 898.42L591.73 893.35L593.07 888.37L594.53 883.42L594.76 878.74L595.21 874.08L595.39 869.4L595.9 864.75L596.27 860.08L596.3 855.39L596.91 850.74L596.92 846.05L597.64 841.41L597.87 836.73L601.2 831.73L601.79 826.74L602.25 821.75L602.58 816.74L602.75 811.72L603.37 806.74L603.56 801.72L603.91 796.72L603.86 791.68L604.54 786.71L605.89 779.96L607.87 773.37L608.71 768.74L610.14 764.25L611.15 759.67L611.87 755.02L612.99 760.91L614.54 766.7L615.66 772.25L616.98 777.77L617.88 783.37L618.3 788.61L618.24 793.87L619.06 799.08L618.95 804.35L619.47 809.58L619.85 814.82L620.21 820.06L620.92 824.62L621.45 829.21L622.01 833.79L622.16 838.42L623.24 842.94L623.55 847.56L623.9 852.17L624.55 856.74L625.12 861.73L625.61 866.73L625.45 871.78L626.35 876.74L626.29 881.78L627 886.76L627.32 891.77L627.88 896.76L628.13 901.43L628.18 906.1L628.44 910.77L628.33 915.44L628.99 920.1L628.95 924.77L628.94 929.45L628.94 934.12L629.68 938.77L629.55 943.45L630.24 948.18L631.82 952.73L632.68 957.43L633.63 962.11L634.55 966.8L636.01 971.33L636.8 976.03L638.58 980.48L639.56 985.14L644.56 990.14L644.56 990.4Z" fill="#c9c9c9" stroke="#0a0a0a" stroke-width="1.5" stroke-linejoin="round"/>
<path d="M515.3 960.4L517.42 978.4L519.4 989.4L519.4 990.4L515.3 990.4Z" fill="#050505"/>
<path d="M610 882H764.3" stroke="#000" stroke-width="3.6" fill="none"/><path d="M611 874.8v14.4M763.3 874.8v14.4" stroke="#000" stroke-width="4.4" fill="none"/>
<path d="M831.46 992.3v4.6M837.92 992.3v4.6M843.2 992.3v4.6M847.67 992.3v4.6M851.54 992.3v4.6M854.95 992.3v4.6M878.08 992.3v4.6M889.82 992.3v4.6M898.16 992.3v4.6M904.62 992.3v4.6M909.9 992.3v4.6M914.37 992.3v4.6M918.24 992.3v4.6M921.65 992.3v4.6M944.78 992.3v4.6M956.52 992.3v4.6M964.86 992.3v4.6M971.32 992.3v4.6M976.6 992.3v4.6M981.07 992.3v4.6M984.94 992.3v4.6M988.35 992.3v4.6M1011.48 992.3v4.6M1023.22 992.3v4.6M1031.56 992.3v4.6M1038.02 992.3v4.6M1043.3 992.3v4.6M1047.77 992.3v4.6M1051.64 992.3v4.6M1055.05 992.3v4.6M1078.18 992.3v4.6M1089.92 992.3v4.6M1098.26 992.3v4.6M1104.72 992.3v4.6M1110 992.3v4.6M1114.47 992.3v4.6M1118.34 992.3v4.6M823 975.6h-4M823 959.6h-4M823 943.6h-4M823 927.6h-4M823 895.6h-4M823 879.6h-4M823 863.6h-4M823 847.6h-4M823 815.6h-4M823 799.6h-4M823 783.6h-4M823 767.6h-4M823 735.6h-4" stroke="#3a3a3a" stroke-width="1.6" fill="none" opacity="0.42"/>
<path d="M858 992.3v8.5M924.7 992.3v8.5M991.4 992.3v8.5M1058.1 992.3v8.5M823 911.6h-8M823 831.6h-8M823 751.6h-8" stroke="#222" stroke-width="2.2" fill="none" opacity="0.9"/>
<rect x="822" y="716.3" width="301" height="277" fill="#141414"/>
<rect x="827.2" y="719.9" width="292" height="270" fill="#fdfdfd"/>
<path d="M935.06 990.4L935.06 990.14L943.4 986.81L946.53 981.67L950.07 976.8L951.55 971.19L953.08 965.59L955.07 960.13L955.68 955.45L956.41 950.79L956.94 946.1L957.63 941.43L958.4 936.78L958.89 932.02L959.16 927.23L959.72 922.48L960.34 917.73L960.76 912.96L961.47 908.21L961.74 903.43L962.32 898.63L962.6 893.81L962.9 888.98L963.08 884.15L963.77 879.36L964.12 874.54L964.2 869.7L964.5 864.88L965.07 860.08L965.41 855.26L965.7 850.43L966.08 845.62L966.46 840.8L966.84 835.98L966.97 831.15L967.68 826.36L968.34 821.56L968.41 816.72L968.54 812.11L969.38 807.56L969.78 802.97L970.4 798.41L970.32 793.78L970.99 789.21L971.03 784.59L971.74 780.04L973.17 773.3L975.08 766.7L975.99 761.54L976.53 756.32L977.32 751.15L978.41 746.02L981.75 753.36L982 758.05L982.61 762.7L983.04 767.37L983.61 772.03L984.08 776.7L984.2 781.49L984.76 786.23L985.29 790.99L985.26 795.79L985.96 800.52L986.55 805.27L986.75 810.05L987.3 815.04L987.32 820.08L987.82 825.07L988.42 830.06L988.74 835.07L989.38 840.05L989.86 845.05L990.09 850.07L990.86 854.8L990.91 859.61L991.52 864.36L991.74 869.15L992.35 873.9L993.01 878.65L993.42 883.42L994 888.21L994.99 892.93L995.62 897.7L996.11 902.5L996.97 907.25L998.02 911.96L998.42 916.77L999.37 922.07L999.55 927.47L1000.33 932.79L1001.41 938.07L1001.76 943.45L1002.74 948.52L1004.37 953.43L1005.55 958.45L1006.76 963.46L1008.71 968.93L1009.94 974.62L1011.76 980.14L1015.2 984.23L1018.43 988.47L1023.44 990.14L1023.44 990.4Z" fill="#000000" stroke="#000000" stroke-width="1.2" stroke-linejoin="round"/>
<path d="M922.7 882H1076.7" stroke="#000" stroke-width="3.6" fill="none"/><path d="M923.7 874.8v14.4M1075.7 874.8v14.4" stroke="#000" stroke-width="4.4" fill="none"/>
<path d="M1142.96 992.3v4.6M1149.42 992.3v4.6M1154.7 992.3v4.6M1159.17 992.3v4.6M1163.04 992.3v4.6M1166.45 992.3v4.6M1189.58 992.3v4.6M1201.32 992.3v4.6M1209.66 992.3v4.6M1216.12 992.3v4.6M1221.4 992.3v4.6M1225.87 992.3v4.6M1229.74 992.3v4.6M1233.15 992.3v4.6M1256.28 992.3v4.6M1268.02 992.3v4.6M1276.36 992.3v4.6M1282.82 992.3v4.6M1288.1 992.3v4.6M1292.57 992.3v4.6M1296.44 992.3v4.6M1299.85 992.3v4.6M1322.98 992.3v4.6M1334.72 992.3v4.6M1343.06 992.3v4.6M1349.52 992.3v4.6M1354.8 992.3v4.6M1359.27 992.3v4.6M1363.14 992.3v4.6M1366.55 992.3v4.6M1389.68 992.3v4.6M1401.42 992.3v4.6M1409.76 992.3v4.6M1416.22 992.3v4.6M1421.5 992.3v4.6M1425.97 992.3v4.6M1429.84 992.3v4.6M1134.5 982.36h-4M1134.5 973.12h-4M1134.5 963.88h-4M1134.5 954.64h-4M1134.5 936.16h-4M1134.5 926.92h-4M1134.5 917.68h-4M1134.5 908.44h-4M1134.5 889.96h-4M1134.5 880.72h-4M1134.5 871.48h-4M1134.5 862.24h-4M1134.5 843.76h-4M1134.5 834.52h-4M1134.5 825.28h-4M1134.5 816.04h-4M1134.5 797.56h-4M1134.5 788.32h-4M1134.5 779.08h-4M1134.5 769.84h-4M1134.5 751.36h-4M1134.5 742.12h-4M1134.5 732.88h-4M1134.5 723.64h-4" stroke="#3a3a3a" stroke-width="1.6" fill="none" opacity="0.42"/>
<path d="M1169.5 992.3v8.5M1236.2 992.3v8.5M1302.9 992.3v8.5M1369.6 992.3v8.5M1134.5 945.4h-8M1134.5 899.2h-8M1134.5 853h-8M1134.5 806.8h-8M1134.5 760.6h-8" stroke="#222" stroke-width="2.2" fill="none" opacity="0.9"/>
<rect x="1133.5" y="716.3" width="302" height="277" fill="#141414"/>
<rect x="1138.7" y="719.9" width="293" height="270" fill="#fdfdfd"/>
<path d="M1160.17 990.4L1160.17 990.14L1164.35 987.65L1168.51 985.14L1173.51 985.04L1178.51 985.14L1182.59 981.69L1186.85 978.47L1190.21 974.32L1193.52 970.13L1195.71 964.56L1197.78 958.94L1200.19 953.46L1202.13 948.87L1204.45 944.47L1206.86 940.12L1208.14 935.51L1209.15 930.84L1209.98 926.13L1210.71 921.41L1211.86 916.77L1213.15 911.78L1214.57 906.82L1215.81 901.81L1216.87 896.76L1217.11 891.72L1218.32 886.79L1218.75 881.78L1219.16 876.76L1219.89 871.78L1220.2 866.75L1220.56 861.37L1221.29 856.04L1222.32 850.75L1222.76 845.39L1223.54 840.07L1225.29 833.42L1226.87 826.73L1227.39 821.49L1227.9 816.26L1227.8 810.99L1228.35 805.76L1229.09 800.54L1229.12 795.28L1229.54 790.04L1232.87 795.04L1233.34 789.99L1234.18 784.99L1235.28 780.04L1235.88 775L1236.88 770.03L1237.47 774.69L1237.98 779.36L1238.81 784L1239.27 788.68L1239.54 793.38L1239.69 798.08L1240.39 802.72L1240.87 807.39L1241.46 812.05L1241.88 816.72L1242.74 822.33L1244.04 827.85L1245.21 833.4L1246.06 839.01L1247.74 844.45L1248.55 850.07L1249.05 855.07L1249.05 860.1L1249.84 865.07L1249.94 870.1L1250.66 875.08L1250.78 880.11L1251.34 885.1L1251.88 890.09L1252.81 894.82L1253.62 899.57L1254.28 904.35L1254.84 909.13L1255.18 913.95L1256.13 918.68L1256.89 923.44L1257.55 928.21L1258.09 933L1259.37 937.68L1259.53 942.53L1260.71 947.22L1261.02 952.05L1261.89 956.79L1263.44 961.83L1265.31 966.77L1266.61 971.89L1268.56 976.8L1271.98 980.9L1275.23 985.14L1279.41 987.62L1283.57 990.14L1283.57 990.4Z" fill="#696969" stroke="#0a0a0a" stroke-width="1.5" stroke-linejoin="round"/>
<path d="M1138.2 960.4L1140.32 978.4L1142.3 989.4L1142.3 990.4L1138.2 990.4Z" fill="#050505"/>
<path d="M1234 882H1389" stroke="#000" stroke-width="3.6" fill="none"/><path d="M1235 874.8v14.4M1388 874.8v14.4" stroke="#000" stroke-width="4.4" fill="none"/>
<path d="M207.16 1279.5v4.6M213.62 1279.5v4.6M218.9 1279.5v4.6M223.37 1279.5v4.6M227.24 1279.5v4.6M230.65 1279.5v4.6M253.78 1279.5v4.6M265.52 1279.5v4.6M273.86 1279.5v4.6M280.32 1279.5v4.6M285.6 1279.5v4.6M290.07 1279.5v4.6M293.94 1279.5v4.6M297.35 1279.5v4.6M320.48 1279.5v4.6M332.22 1279.5v4.6M340.56 1279.5v4.6M347.02 1279.5v4.6M352.3 1279.5v4.6M356.77 1279.5v4.6M360.64 1279.5v4.6M364.05 1279.5v4.6M387.18 1279.5v4.6M398.92 1279.5v4.6M407.26 1279.5v4.6M413.72 1279.5v4.6M419 1279.5v4.6M423.47 1279.5v4.6M427.34 1279.5v4.6M430.75 1279.5v4.6M453.88 1279.5v4.6M465.62 1279.5v4.6M473.96 1279.5v4.6M480.42 1279.5v4.6M485.7 1279.5v4.6M490.17 1279.5v4.6M494.04 1279.5v4.6M198.7 1263.5h-4M198.7 1248.2h-4M198.7 1232.9h-4M198.7 1217.6h-4M198.7 1187h-4M198.7 1171.7h-4M198.7 1156.4h-4M198.7 1141.1h-4M198.7 1110.5h-4M198.7 1095.2h-4M198.7 1079.9h-4M198.7 1064.6h-4M198.7 1034h-4M198.7 1018.7h-4" stroke="#3a3a3a" stroke-width="1.6" fill="none" opacity="0.42"/>
<path d="M233.7 1279.5v8.5M300.4 1279.5v8.5M367.1 1279.5v8.5M433.8 1279.5v8.5M198.7 1202.3h-8M198.7 1125.8h-8M198.7 1049.3h-8" stroke="#222" stroke-width="2.2" fill="none" opacity="0.9"/>
<rect x="197.7" y="1003.5" width="301.9" height="277" fill="#141414"/>
<rect x="202.9" y="1007.1" width="292.9" height="270" fill="#fdfdfd"/>
<path d="M229.35 1277.6L229.35 1277.6L234.86 1276.33L240.4 1274.78L246.03 1273.62L250.96 1270.98L256.03 1268.61L258.73 1264.13L260.87 1259.35L263.7 1254.94L266.04 1250.27L267.61 1245.24L269.34 1240.25L271.17 1235.31L272.71 1230.26L273.41 1225.53L274.95 1220.97L275.79 1216.27L276.54 1211.55L277.71 1206.92L278.32 1201.88L279.37 1196.91L280.42 1191.94L281.34 1186.95L281.59 1181.86L282.71 1176.9L283.1 1171.89L284.01 1166.93L284.05 1161.88L284.89 1156.91L285.29 1151.9L285.85 1146.9L286.32 1141.89L286.71 1136.88L286.92 1132.04L288.02 1127.28L288.36 1122.45L288.89 1117.64L289.25 1112.81L289.88 1108L290.1 1103.16L290.28 1098.31L291.05 1093.53L291.37 1088.18L291.82 1082.84L292.78 1077.55L292.71 1072.16L293.38 1066.85L296.05 1058.51L299.39 1053.51L302.05 1060.18L302.84 1065.48L302.71 1070.87L303.24 1076.2L303.85 1081.52L304.39 1086.86L305.14 1091.51L305.94 1096.16L306.37 1100.86L306.87 1105.56L307.72 1110.2L308.17 1114.9L309.35 1119.5L309.72 1124.21L310.72 1128.83L311.06 1133.55L311.08 1138.57L311.55 1143.56L312.37 1148.53L312.07 1153.58L312.94 1158.54L312.96 1163.57L313.49 1168.56L314.03 1173.54L313.95 1178.57L314.39 1183.57L314.62 1188.59L315.46 1193.56L315.35 1198.6L316.06 1203.58L316.81 1208.56L317.12 1213.57L317.65 1218.56L317.73 1223.59L318.03 1228.4L319.05 1233.11L319.8 1237.86L320.54 1242.6L320.76 1247.42L321.65 1252.15L322.06 1256.94L323.48 1261.92L324.76 1266.94L326.07 1271.95L332.74 1277.6L332.74 1277.6Z" fill="none" stroke="#000" stroke-width="1.5" stroke-linejoin="round"/>
<path d="M299.3 1169.3H453.3" stroke="#000" stroke-width="3.6" fill="none"/><path d="M300.3 1162.1v14.4M452.3 1162.1v14.4" stroke="#000" stroke-width="4.4" fill="none"/>
<path d="M520.06 1279.5v4.6M526.52 1279.5v4.6M531.8 1279.5v4.6M536.27 1279.5v4.6M540.14 1279.5v4.6M543.55 1279.5v4.6M566.68 1279.5v4.6M578.42 1279.5v4.6M586.76 1279.5v4.6M593.22 1279.5v4.6M598.5 1279.5v4.6M602.97 1279.5v4.6M606.84 1279.5v4.6M610.25 1279.5v4.6M633.38 1279.5v4.6M645.12 1279.5v4.6M653.46 1279.5v4.6M659.92 1279.5v4.6M665.2 1279.5v4.6M669.67 1279.5v4.6M673.54 1279.5v4.6M676.95 1279.5v4.6M700.08 1279.5v4.6M711.82 1279.5v4.6M720.16 1279.5v4.6M726.62 1279.5v4.6M731.9 1279.5v4.6M736.37 1279.5v4.6M740.24 1279.5v4.6M743.65 1279.5v4.6M766.78 1279.5v4.6M778.52 1279.5v4.6M786.86 1279.5v4.6M793.32 1279.5v4.6M798.6 1279.5v4.6M803.07 1279.5v4.6M806.94 1279.5v4.6M511.6 1263.4h-4M511.6 1248h-4M511.6 1232.6h-4M511.6 1217.2h-4M511.6 1186.4h-4M511.6 1171h-4M511.6 1155.6h-4M511.6 1140.2h-4M511.6 1109.4h-4M511.6 1094h-4M511.6 1078.6h-4M511.6 1063.2h-4M511.6 1032.4h-4M511.6 1017h-4" stroke="#3a3a3a" stroke-width="1.6" fill="none" opacity="0.42"/>
<path d="M546.6 1279.5v8.5M613.3 1279.5v8.5M680 1279.5v8.5M746.7 1279.5v8.5M511.6 1201.8h-8M511.6 1124.8h-8M511.6 1047.8h-8" stroke="#222" stroke-width="2.2" fill="none" opacity="0.9"/>
<rect x="510.6" y="1003.5" width="301.4" height="277" fill="#141414"/>
<rect x="515.8" y="1007.1" width="292.4" height="270" fill="#fdfdfd"/>
<path d="M542.84 1277.6L542.84 1277.6L548.46 1276.13L553.89 1273.77L559.52 1271.95L564.44 1268.5L569.52 1265.28L571.44 1260.14L573.79 1255.19L576.19 1250.27L578.02 1245.32L579.49 1240.25L580.91 1235.17L582.86 1230.26L583.53 1224.86L585.16 1219.64L585.57 1214.2L586.86 1208.91L587.86 1203.58L589.21 1198.25L590.44 1192.89L591.69 1187.53L593.09 1182.21L594.53 1176.9L594.91 1171.89L595.33 1166.89L596.06 1161.92L596.48 1156.91L596.31 1151.86L596.88 1146.87L597.12 1141.85L597.87 1136.88L598.59 1132.12L599.41 1127.37L600.02 1122.59L600.44 1117.78L601.32 1113.04L601.93 1108.26L602.87 1103.53L603.61 1098.79L604.23 1094.03L604.67 1089.25L605.17 1084.47L606.01 1079.74L606.38 1074.95L606.87 1070.18L607.67 1065.14L609.15 1060.23L609.95 1055.19L611.14 1050.22L611.87 1045.17L612.88 1049.74L613.67 1054.35L614.53 1058.94L615.54 1063.51L615.93 1068.52L616.67 1073.49L617 1078.5L617.31 1083.51L617.96 1088.49L618.37 1093.5L618.33 1098.54L618.88 1103.53L619.14 1108.14L619.71 1112.72L620.45 1117.28L620.62 1121.9L621.44 1126.45L622.18 1131.01L622.52 1135.61L622.88 1140.22L622.94 1145.24L623.28 1150.24L623.65 1155.24L624.29 1160.22L624.78 1165.21L624.94 1170.23L625.2 1175.23L625.65 1180.23L626.15 1185.22L626.22 1190.24L626.9 1195.22L626.95 1200.25L627.79 1205.22L628.07 1210.23L628.48 1215.24L628.93 1220.24L629.36 1225.24L629.55 1230.26L630.16 1235.3L631.23 1240.26L632.23 1245.24L632.64 1250.31L634.01 1255.22L634.55 1260.28L636.54 1264.6L638.05 1269.11L639.56 1273.62L644.56 1277.6L644.56 1277.6Z" fill="#c9c9c9" stroke="#0a0a0a" stroke-width="1.5" stroke-linejoin="round"/>
<path d="M515.3 1247.6L517.42 1265.6L519.4 1276.6L519.4 1277.6L515.3 1277.6Z" fill="#050505"/>
<path d="M610 1169.3H764.3" stroke="#000" stroke-width="3.6" fill="none"/><path d="M611 1162.1v14.4M763.3 1162.1v14.4" stroke="#000" stroke-width="4.4" fill="none"/>
<path d="M831.46 1279.5v4.6M837.92 1279.5v4.6M843.2 1279.5v4.6M847.67 1279.5v4.6M851.54 1279.5v4.6M854.95 1279.5v4.6M878.08 1279.5v4.6M889.82 1279.5v4.6M898.16 1279.5v4.6M904.62 1279.5v4.6M909.9 1279.5v4.6M914.37 1279.5v4.6M918.24 1279.5v4.6M921.65 1279.5v4.6M944.78 1279.5v4.6M956.52 1279.5v4.6M964.86 1279.5v4.6M971.32 1279.5v4.6M976.6 1279.5v4.6M981.07 1279.5v4.6M984.94 1279.5v4.6M988.35 1279.5v4.6M1011.48 1279.5v4.6M1023.22 1279.5v4.6M1031.56 1279.5v4.6M1038.02 1279.5v4.6M1043.3 1279.5v4.6M1047.77 1279.5v4.6M1051.64 1279.5v4.6M1055.05 1279.5v4.6M1078.18 1279.5v4.6M1089.92 1279.5v4.6M1098.26 1279.5v4.6M1104.72 1279.5v4.6M1110 1279.5v4.6M1114.47 1279.5v4.6M1118.34 1279.5v4.6M823 1263.3h-4M823 1247.8h-4M823 1232.3h-4M823 1216.8h-4M823 1185.8h-4M823 1170.3h-4M823 1154.8h-4M823 1139.3h-4M823 1108.3h-4M823 1092.8h-4M823 1077.3h-4M823 1061.8h-4M823 1030.8h-4M823 1015.3h-4" stroke="#3a3a3a" stroke-width="1.6" fill="none" opacity="0.42"/>
<path d="M858 1279.5v8.5M924.7 1279.5v8.5M991.4 1279.5v8.5M1058.1 1279.5v8.5M823 1201.3h-8M823 1123.8h-8M823 1046.3h-8" stroke="#222" stroke-width="2.2" fill="none" opacity="0.9"/>
<rect x="822" y="1003.5" width="301" height="277" fill="#141414"/>
<rect x="827.2" y="1007.1" width="292" height="270" fill="#fdfdfd"/>
<path d="M935.06 1277.6L935.06 1277.6L939.17 1276.02L943.4 1273.62L946.69 1268.59L950.07 1263.61L951.24 1258.59L952.59 1253.61L953.82 1248.6L955.07 1243.6L955.86 1238.28L956.59 1232.95L957.09 1227.6L957.85 1222.27L958.4 1216.92L959.01 1211.93L959.32 1206.92L959.98 1201.94L960.18 1196.92L960.77 1191.93L960.64 1186.88L961.22 1181.89L961.74 1176.9L962 1172.13L962.38 1167.37L962.51 1162.58L963.29 1157.85L963.69 1153.09L964.21 1148.34L964.17 1143.54L964.82 1138.8L965.17 1134.04L965.36 1129.26L965.51 1124.48L965.81 1119.71L966.6 1114.98L966.74 1110.2L966.97 1105.17L967.96 1100.22L968.23 1095.19L968.43 1090.16L969.14 1085.18L969.77 1080.19L970.44 1075.2L970.74 1070.18L971.28 1065.4L972.12 1060.67L972.84 1055.92L973.26 1051.13L973.6 1046.33L974.32 1041.58L975.08 1036.83L976.58 1041.89L978.41 1046.84L979.53 1052.39L980.59 1057.96L981.75 1063.51L981.91 1068.53L982.61 1073.51L982.7 1078.54L983.76 1083.49L983.76 1088.53L984.45 1093.51L984.96 1098.5L985.08 1103.53L985.76 1108.51L985.83 1113.54L986.04 1118.56L986.79 1123.54L986.83 1128.57L987.93 1133.52L988.25 1138.53L988.42 1143.55L989.09 1148.54L989.66 1153.54L990.11 1158.55L990.8 1163.54L990.95 1168.58L991.84 1173.55L992.55 1178.53L992.75 1183.57L993.3 1188.34L994.14 1193.07L994.75 1197.83L994.84 1202.65L995.55 1207.4L996.26 1212.15L996.76 1216.92L998.09 1222.19L998.94 1227.56L999.99 1232.88L1000.69 1238.28L1001.76 1243.6L1002.74 1248.67L1004.24 1253.61L1005.34 1258.65L1006.76 1263.61L1010.05 1269.47L1013.43 1275.28L1021.77 1277.6L1021.77 1277.6Z" fill="#000000" stroke="#000000" stroke-width="1.2" stroke-linejoin="round"/>
<path d="M922.7 1169.3H1076.7" stroke="#000" stroke-width="3.6" fill="none"/><path d="M923.7 1162.1v14.4M1075.7 1162.1v14.4" stroke="#000" stroke-width="4.4" fill="none"/>
<path d="M1142.96 1279.5v4.6M1149.42 1279.5v4.6M1154.7 1279.5v4.6M1159.17 1279.5v4.6M1163.04 1279.5v4.6M1166.45 1279.5v4.6M1189.58 1279.5v4.6M1201.32 1279.5v4.6M1209.66 1279.5v4.6M1216.12 1279.5v4.6M1221.4 1279.5v4.6M1225.87 1279.5v4.6M1229.74 1279.5v4.6M1233.15 1279.5v4.6M1256.28 1279.5v4.6M1268.02 1279.5v4.6M1276.36 1279.5v4.6M1282.82 1279.5v4.6M1288.1 1279.5v4.6M1292.57 1279.5v4.6M1296.44 1279.5v4.6M1299.85 1279.5v4.6M1322.98 1279.5v4.6M1334.72 1279.5v4.6M1343.06 1279.5v4.6M1349.52 1279.5v4.6M1354.8 1279.5v4.6M1359.27 1279.5v4.6M1363.14 1279.5v4.6M1366.55 1279.5v4.6M1389.68 1279.5v4.6M1401.42 1279.5v4.6M1409.76 1279.5v4.6M1416.22 1279.5v4.6M1421.5 1279.5v4.6M1425.97 1279.5v4.6M1429.84 1279.5v4.6M1134.5 1262.4h-4M1134.5 1246h-4M1134.5 1229.6h-4M1134.5 1213.2h-4M1134.5 1180.4h-4M1134.5 1164h-4M1134.5 1147.6h-4M1134.5 1131.2h-4M1134.5 1098.4h-4M1134.5 1082h-4M1134.5 1065.6h-4M1134.5 1049.2h-4M1134.5 1016.4h-4" stroke="#3a3a3a" stroke-width="1.6" fill="none" opacity="0.42"/>
<path d="M1169.5 1279.5v8.5M1236.2 1279.5v8.5M1302.9 1279.5v8.5M1369.6 1279.5v8.5M1134.5 1196.8h-8M1134.5 1114.8h-8M1134.5 1032.8h-8" stroke="#222" stroke-width="2.2" fill="none" opacity="0.9"/>
<rect x="1133.5" y="1003.5" width="302" height="277" fill="#141414"/>
<rect x="1138.7" y="1007.1" width="293" height="270" fill="#fdfdfd"/>
<path d="M1248.55 1277.6L1248.55 1277.6L1251.64 1274.26L1255.22 1270.28L1257.24 1264.64L1259.39 1259.05L1261.89 1253.61L1263.02 1248.61L1263.92 1243.56L1265.17 1238.59L1266.63 1233.66L1267.47 1228.6L1268.56 1223.59L1268.73 1218.89L1269.44 1214.24L1270.09 1209.59L1270.28 1204.88L1271.28 1200.27L1271.5 1195.57L1271.96 1190.9L1272.5 1186.23L1272.89 1181.55L1273.56 1176.9L1273.82 1172.23L1274.37 1167.57L1274.72 1162.9L1275.05 1158.24L1275.51 1153.58L1275.49 1148.88L1275.98 1144.22L1276.44 1139.56L1276.67 1134.89L1276.9 1130.21L1276.94 1125.52L1277.87 1120.89L1278.11 1116.22L1277.92 1111.51L1278.49 1106.86L1278.61 1102.18L1279.52 1097.55L1279.52 1092.86L1279.95 1088.19L1280.23 1083.52L1280.64 1078.93L1281.37 1074.38L1281.72 1069.78L1281.81 1065.17L1282.34 1060.59L1283.03 1056.03L1283.29 1051.43L1283.57 1046.84L1284.56 1041.44L1285.53 1036.04L1285.98 1030.56L1286.9 1025.16L1290.24 1025.16L1290.75 1029.76L1291.61 1034.32L1292.42 1038.89L1292.9 1043.5L1293.24 1048.26L1293.47 1053.04L1293.59 1057.82L1294.27 1062.56L1294.73 1067.31L1294.59 1072.11L1295.24 1076.85L1295.49 1081.64L1295.93 1086.4L1296.95 1091.11L1296.97 1095.93L1297.61 1100.67L1298.33 1105.41L1298.57 1110.2L1299.12 1115L1299 1119.86L1299.77 1124.64L1300.02 1129.47L1300.18 1134.31L1301.03 1139.09L1301.09 1143.93L1301.82 1148.72L1301.91 1153.56L1302.23 1158.15L1302.58 1162.74L1303 1167.33L1303.6 1171.9L1303.9 1176.49L1304.11 1181.1L1304.77 1185.66L1305.24 1190.24L1306.3 1195.57L1307 1200.96L1308.54 1206.19L1309.22 1211.59L1310.25 1216.92L1311.38 1221.87L1312.11 1226.89L1313.06 1231.88L1313.69 1236.91L1314.59 1241.9L1315.25 1246.94L1316.16 1252.02L1318.08 1256.86L1318.75 1262L1320.25 1266.95L1323.72 1271.86L1326.92 1276.95L1330.26 1277.6L1330.26 1277.6Z" fill="#696969" stroke="#0a0a0a" stroke-width="1.5" stroke-linejoin="round"/>
<path d="M1234 1169.3H1389" stroke="#000" stroke-width="3.6" fill="none"/><path d="M1235 1162.1v14.4M1388 1162.1v14.4" stroke="#000" stroke-width="4.4" fill="none"/>
<path d="M207.16 1678.3v4.6M213.62 1678.3v4.6M218.9 1678.3v4.6M223.37 1678.3v4.6M227.24 1678.3v4.6M230.65 1678.3v4.6M253.78 1678.3v4.6M265.52 1678.3v4.6M273.86 1678.3v4.6M280.32 1678.3v4.6M285.6 1678.3v4.6M290.07 1678.3v4.6M293.94 1678.3v4.6M297.35 1678.3v4.6M320.48 1678.3v4.6M332.22 1678.3v4.6M340.56 1678.3v4.6M347.02 1678.3v4.6M352.3 1678.3v4.6M356.77 1678.3v4.6M360.64 1678.3v4.6M364.05 1678.3v4.6M387.18 1678.3v4.6M398.92 1678.3v4.6M407.26 1678.3v4.6M413.72 1678.3v4.6M419 1678.3v4.6M423.47 1678.3v4.6M427.34 1678.3v4.6M430.75 1678.3v4.6M453.88 1678.3v4.6M465.62 1678.3v4.6M473.96 1678.3v4.6M480.42 1678.3v4.6M485.7 1678.3v4.6M490.17 1678.3v4.6M494.04 1678.3v4.6M198.7 1663.7h-4M198.7 1649.9h-4M198.7 1636.1h-4M198.7 1622.3h-4M198.7 1594.7h-4M198.7 1580.9h-4M198.7 1567.1h-4M198.7 1553.3h-4M198.7 1525.7h-4M198.7 1511.9h-4M198.7 1498.1h-4M198.7 1484.3h-4M198.7 1456.7h-4M198.7 1442.9h-4M198.7 1429.1h-4M198.7 1415.3h-4" stroke="#3a3a3a" stroke-width="1.6" fill="none" opacity="0.42"/>
<path d="M233.7 1678.3v8.5M300.4 1678.3v8.5M367.1 1678.3v8.5M433.8 1678.3v8.5M198.7 1608.5h-8M198.7 1539.5h-8M198.7 1470.5h-8" stroke="#222" stroke-width="2.2" fill="none" opacity="0.9"/>
<rect x="197.7" y="1402.3" width="300.9" height="277" fill="#141414"/>
<rect x="202.3" y="1405.9" width="292.3" height="269.8" fill="#fdfdfd"/>
<path d="M232.69 1676.2L232.69 1676.14L239.4 1674.66L246.03 1672.81L250.95 1669.35L256.03 1666.14L258.02 1661.57L260.44 1657.22L262.7 1652.8L265.19 1647.34L266.95 1641.6L269.37 1636.12L270.9 1631.13L272.39 1626.12L273.72 1621.07L275.37 1616.11L276.07 1610.76L276.86 1605.42L277.92 1600.12L278.64 1594.78L279.38 1589.43L279.91 1584.77L280.29 1580.1L280.45 1575.41L281.19 1570.77L281.42 1566.09L281.84 1561.42L282.03 1556.73L282.46 1552.07L283.23 1547.43L283.38 1542.74L284.08 1538.09L284.69 1533.43L284.83 1528.72L285.29 1524.04L286.05 1519.4L287.96 1512.79L289.38 1506.06L289.91 1501.31L290.03 1496.54L290.11 1491.76L290.38 1487L290.33 1482.22L290.64 1477.46L291.05 1472.71L291.78 1467.72L291.89 1462.67L292.72 1457.7L293.22 1462.7L293.51 1467.72L294.05 1472.71L294.87 1477.68L295.05 1482.71L296.62 1487.65L297.72 1492.72L299.34 1499.4L301.05 1506.06L301.62 1511.04L301.72 1516.07L302.24 1521.06L302.54 1526.07L303.13 1531.06L303.39 1536.07L303.93 1540.73L304 1545.43L304.45 1550.1L304.89 1554.77L305.65 1559.41L306.11 1564.07L306.24 1568.77L306.69 1573.44L307.25 1578.09L307.72 1582.76L307.98 1587.55L308.91 1592.27L309.15 1597.05L309.82 1601.8L310.06 1606.59L310.83 1611.32L311.06 1616.11L311.73 1621.1L312.09 1626.12L312.7 1631.12L312.98 1636.15L313.73 1641.13L314.39 1646.13L315.98 1651.71L317.59 1657.28L319.4 1662.8L322.52 1667.94L326.07 1672.81L332.74 1676.14L332.74 1676.2Z" fill="none" stroke="#000" stroke-width="1.5" stroke-linejoin="round"/>
<path d="M295 1577H464.3" stroke="#000" stroke-width="4.0" fill="none"/><path d="M296 1569.8v14.4M463.3 1569.8v14.4" stroke="#000" stroke-width="4.8" fill="none"/>
<path d="M519.86 1678.3v4.6M526.32 1678.3v4.6M531.6 1678.3v4.6M536.07 1678.3v4.6M539.94 1678.3v4.6M543.35 1678.3v4.6M566.48 1678.3v4.6M578.22 1678.3v4.6M586.56 1678.3v4.6M593.02 1678.3v4.6M598.3 1678.3v4.6M602.77 1678.3v4.6M606.64 1678.3v4.6M610.05 1678.3v4.6M633.18 1678.3v4.6M644.92 1678.3v4.6M653.26 1678.3v4.6M659.72 1678.3v4.6M665 1678.3v4.6M669.47 1678.3v4.6M673.34 1678.3v4.6M676.75 1678.3v4.6M699.88 1678.3v4.6M711.62 1678.3v4.6M719.96 1678.3v4.6M726.42 1678.3v4.6M731.7 1678.3v4.6M736.17 1678.3v4.6M740.04 1678.3v4.6M743.45 1678.3v4.6M766.58 1678.3v4.6M778.32 1678.3v4.6M786.66 1678.3v4.6M793.12 1678.3v4.6M798.4 1678.3v4.6M802.87 1678.3v4.6M806.74 1678.3v4.6M511.4 1662.5h-4M511.4 1647.5h-4M511.4 1632.5h-4M511.4 1617.5h-4M511.4 1587.5h-4M511.4 1572.5h-4M511.4 1557.5h-4M511.4 1542.5h-4M511.4 1512.5h-4M511.4 1497.5h-4M511.4 1482.5h-4M511.4 1467.5h-4M511.4 1437.5h-4M511.4 1422.5h-4M511.4 1407.5h-4" stroke="#3a3a3a" stroke-width="1.6" fill="none" opacity="0.42"/>
<path d="M546.4 1678.3v8.5M613.1 1678.3v8.5M679.8 1678.3v8.5M746.5 1678.3v8.5M511.4 1602.5h-8M511.4 1527.5h-8M511.4 1452.5h-8" stroke="#222" stroke-width="2.2" fill="none" opacity="0.9"/>
<rect x="510.4" y="1402.3" width="300.4" height="277" fill="#141414"/>
<rect x="515" y="1405.9" width="291.8" height="269.8" fill="#fdfdfd"/>
<path d="M542.84 1676.2L542.84 1676.14L547.33 1674L551.78 1671.78L556.18 1669.47L561.91 1666.71L567.85 1664.47L569.88 1659.38L572.56 1654.58L574.52 1649.46L576.44 1645.21L578.79 1641.17L580.74 1636.94L582.86 1632.79L583.97 1627.83L584.64 1622.8L585.26 1617.76L585.99 1612.74L586.92 1607.75L587.86 1602.77L589.07 1597.47L590.16 1592.15L591.02 1586.79L591.67 1581.39L592.87 1576.09L593.5 1571.1L593.72 1566.07L594.54 1561.1L594.73 1556.07L595.19 1551.06L595.68 1546.06L596.61 1541.1L596.71 1536.05L597.14 1531.05L597.87 1526.07L598.32 1521.37L599.09 1516.71L599.84 1512.05L600.35 1507.36L601.2 1502.72L601.76 1497.96L602.45 1493.22L602.83 1488.45L603.22 1483.67L603.39 1478.88L604.15 1474.14L604.54 1469.37L605.48 1463.82L606.14 1458.22L607.21 1452.7L609.54 1461.03L611.01 1466.93L612.88 1472.71L613.59 1478.02L613.8 1483.39L614.36 1488.72L614.9 1494.06L615.54 1499.39L615.63 1504.4L616.38 1509.38L616.66 1514.38L616.75 1519.4L617.05 1524.41L617.54 1529.4L617.8 1534.41L618.3 1539.4L618.34 1544.42L618.88 1549.41L619.21 1554.43L620.18 1559.39L620.13 1564.44L620.65 1569.44L621.63 1574.4L621.73 1579.44L622.13 1584.45L622.88 1589.43L623.57 1594.18L624.12 1598.95L624.35 1603.75L625.06 1608.5L625.5 1613.28L626.16 1618.03L626.88 1622.78L627.73 1627.76L628.2 1632.8L628.79 1637.83L630.01 1642.76L630.6 1647.78L631.22 1652.8L633.6 1657.16L635.82 1661.61L637.89 1666.14L641.09 1669.61L644.56 1672.81L651.23 1676.14L651.23 1676.2Z" fill="#c9c9c9" stroke="#0a0a0a" stroke-width="1.5" stroke-linejoin="round"/>
<path d="M607.7 1577H776.7" stroke="#000" stroke-width="4.0" fill="none"/><path d="M608.7 1569.8v14.4M775.7 1569.8v14.4" stroke="#000" stroke-width="4.8" fill="none"/>
<path d="M833.76 1678.3v4.6M840.22 1678.3v4.6M845.5 1678.3v4.6M849.97 1678.3v4.6M853.84 1678.3v4.6M857.25 1678.3v4.6M880.38 1678.3v4.6M892.12 1678.3v4.6M900.46 1678.3v4.6M906.92 1678.3v4.6M912.2 1678.3v4.6M916.67 1678.3v4.6M920.54 1678.3v4.6M923.95 1678.3v4.6M947.08 1678.3v4.6M958.82 1678.3v4.6M967.16 1678.3v4.6M973.62 1678.3v4.6M978.9 1678.3v4.6M983.37 1678.3v4.6M987.24 1678.3v4.6M990.65 1678.3v4.6M1013.78 1678.3v4.6M1025.52 1678.3v4.6M1033.86 1678.3v4.6M1040.32 1678.3v4.6M1045.6 1678.3v4.6M1050.07 1678.3v4.6M1053.94 1678.3v4.6M1057.35 1678.3v4.6M1080.48 1678.3v4.6M1092.22 1678.3v4.6M1100.56 1678.3v4.6M1107.02 1678.3v4.6M1112.3 1678.3v4.6M1116.77 1678.3v4.6M1120.64 1678.3v4.6M825.3 1660.2h-4M825.3 1642.9h-4M825.3 1625.6h-4M825.3 1608.3h-4M825.3 1573.7h-4M825.3 1556.4h-4M825.3 1539.1h-4M825.3 1521.8h-4M825.3 1487.2h-4M825.3 1469.9h-4M825.3 1452.6h-4M825.3 1435.3h-4" stroke="#3a3a3a" stroke-width="1.6" fill="none" opacity="0.42"/>
<path d="M860.3 1678.3v8.5M927 1678.3v8.5M993.7 1678.3v8.5M1060.4 1678.3v8.5M825.3 1591h-8M825.3 1504.5h-8M825.3 1418h-8" stroke="#222" stroke-width="2.2" fill="none" opacity="0.9"/>
<rect x="824.3" y="1402.3" width="299.7" height="277" fill="#141414"/>
<rect x="828.9" y="1405.9" width="291.1" height="269.8" fill="#fdfdfd"/>
<path d="M885.03 1676.2L885.03 1676.2L890.05 1674.01L895.04 1671.14L899.41 1667.17L903.38 1662.8L905.56 1658.33L908.02 1654.01L910.05 1649.46L911.12 1644.41L912.34 1639.4L913.71 1634.43L915.05 1629.45L915.43 1624.08L916.35 1618.77L916.99 1613.43L917.76 1608.11L918.38 1602.77L919.1 1598.03L919.11 1593.22L919.65 1588.46L920.29 1583.71L920.84 1578.96L921.06 1574.17L921.72 1569.42L922.06 1564.75L922.22 1560.07L922.62 1555.41L922.87 1550.73L923.26 1546.07L923.71 1541.41L924.2 1536.75L924.53 1532.08L924.95 1527.42L925.05 1522.73L925.05 1517.71L925.38 1512.71L925.92 1507.72L926.06 1502.71L926.81 1497.73L926.81 1492.72L927.36 1487.73L927.39 1482.71L927.97 1477.96L928.37 1473.2L928.26 1468.4L929.13 1463.67L929.45 1458.9L929.4 1454.1L930.06 1449.36L931.88 1444.41L933.39 1439.36L936.73 1431.02L937.67 1436.4L937.88 1441.88L938.66 1447.28L939.39 1452.7L940.01 1458.04L940.98 1463.34L941.19 1468.73L942.07 1474.04L942.73 1479.38L942.81 1484.63L943.59 1489.84L943.78 1495.09L944.07 1500.34L944.39 1505.58L944.98 1510.8L945.06 1516.06L945.76 1520.62L946.08 1525.21L946.16 1529.83L946.46 1534.43L947.42 1538.96L947.49 1543.58L947.94 1548.16L948.4 1552.75L948.94 1557.52L949.54 1562.29L950.13 1567.05L950.66 1571.83L951.44 1576.57L952.15 1581.33L952.73 1586.1L953.19 1590.69L953.65 1595.27L954.46 1599.83L954.45 1604.47L955.19 1609.03L955.72 1613.61L955.99 1618.22L956.74 1622.78L957.61 1627.48L958.82 1632.1L959.68 1636.8L960.91 1641.42L961.74 1646.13L963.55 1651.64L965.15 1657.22L966.74 1662.8L970.89 1667.82L975.08 1672.81L979.25 1674.8L983.42 1676.2L983.42 1676.2Z" fill="#000000" stroke="#000000" stroke-width="1.2" stroke-linejoin="round"/>
<path d="M921.4 1577H1090.7" stroke="#000" stroke-width="4.0" fill="none"/><path d="M922.4 1569.8v14.4M1089.7 1569.8v14.4" stroke="#000" stroke-width="4.8" fill="none"/>
<path d="M1144.96 1678.3v4.6M1151.42 1678.3v4.6M1156.7 1678.3v4.6M1161.17 1678.3v4.6M1165.04 1678.3v4.6M1168.45 1678.3v4.6M1191.58 1678.3v4.6M1203.32 1678.3v4.6M1211.66 1678.3v4.6M1218.12 1678.3v4.6M1223.4 1678.3v4.6M1227.87 1678.3v4.6M1231.74 1678.3v4.6M1235.15 1678.3v4.6M1258.28 1678.3v4.6M1270.02 1678.3v4.6M1278.36 1678.3v4.6M1284.82 1678.3v4.6M1290.1 1678.3v4.6M1294.57 1678.3v4.6M1298.44 1678.3v4.6M1301.85 1678.3v4.6M1324.98 1678.3v4.6M1336.72 1678.3v4.6M1345.06 1678.3v4.6M1351.52 1678.3v4.6M1356.8 1678.3v4.6M1361.27 1678.3v4.6M1365.14 1678.3v4.6M1368.55 1678.3v4.6M1391.68 1678.3v4.6M1403.42 1678.3v4.6M1411.76 1678.3v4.6M1418.22 1678.3v4.6M1423.5 1678.3v4.6M1427.97 1678.3v4.6M1431.84 1678.3v4.6M1136.5 1660.3h-4M1136.5 1643.1h-4M1136.5 1625.9h-4M1136.5 1608.7h-4M1136.5 1574.3h-4M1136.5 1557.1h-4M1136.5 1539.9h-4M1136.5 1522.7h-4M1136.5 1488.3h-4M1136.5 1471.1h-4M1136.5 1453.9h-4M1136.5 1436.7h-4" stroke="#3a3a3a" stroke-width="1.6" fill="none" opacity="0.42"/>
<path d="M1171.5 1678.3v8.5M1238.2 1678.3v8.5M1304.9 1678.3v8.5M1371.6 1678.3v8.5M1136.5 1591.5h-8M1136.5 1505.5h-8M1136.5 1419.5h-8" stroke="#222" stroke-width="2.2" fill="none" opacity="0.9"/>
<rect x="1135.5" y="1402.3" width="300" height="277" fill="#141414"/>
<rect x="1140.1" y="1405.9" width="291.4" height="269.8" fill="#fdfdfd"/>
<path d="M1180.18 1676.2L1180.18 1676.2L1185.09 1673.81L1190.19 1671.14L1194.23 1668.44L1198.52 1666.14L1199.91 1661.58L1201.93 1657.27L1203.53 1652.8L1204.62 1647.75L1205.86 1642.75L1207.3 1637.79L1208.53 1632.79L1210.17 1627.22L1211.94 1621.69L1213.53 1616.11L1214.68 1611.61L1215.97 1607.15L1217.53 1602.77L1217.81 1598.09L1218.12 1593.41L1218.68 1588.75L1219.12 1584.08L1219.53 1579.41L1220.04 1574.75L1220.76 1570.1L1221.01 1565.42L1221.47 1560.75L1221.87 1556.08L1222.37 1550.72L1223.11 1545.4L1223.81 1540.06L1224.81 1534.77L1225.2 1529.4L1225.61 1524.64L1225.66 1519.86L1225.94 1515.09L1226.5 1510.34L1226.94 1505.58L1227.22 1500.82L1227.54 1496.05L1228.07 1491.27L1228.06 1486.46L1228.01 1481.65L1228.29 1476.86L1228.77 1472.08L1229.14 1467.29L1229.28 1462.49L1229.54 1457.7L1231.43 1462.63L1232.87 1467.7L1233.18 1462.95L1233.87 1458.24L1234.62 1453.54L1235.04 1448.8L1235.56 1444.07L1236.21 1439.36L1239.21 1436.02L1239.69 1440.7L1240.08 1445.38L1240.94 1450.01L1241.61 1454.67L1241.88 1459.37L1242.51 1464.11L1243.01 1468.88L1243.6 1473.63L1243.82 1478.42L1244.38 1483.17L1244.84 1487.94L1245.21 1492.72L1245.98 1497.45L1246.43 1502.22L1246.41 1507.03L1247.03 1511.78L1247.73 1516.52L1248.17 1521.29L1248.55 1526.07L1249.16 1531.06L1249.81 1536.05L1250.05 1541.09L1250.86 1546.06L1251.36 1551.07L1251.88 1556.08L1252.48 1560.83L1253.13 1565.58L1253.42 1570.36L1253.98 1575.12L1254.06 1579.92L1254.46 1584.69L1255.22 1589.43L1256 1594.18L1256.74 1598.95L1257.61 1603.69L1258.23 1608.46L1258.66 1613.27L1259.66 1617.99L1260.22 1622.78L1261.17 1628.13L1262.37 1633.42L1263.51 1638.73L1264.23 1644.12L1265.22 1649.46L1267.37 1655.05L1269.72 1660.56L1271.89 1666.14L1276.13 1670.23L1280.23 1674.47L1285.23 1676.2L1285.23 1676.2Z" fill="#696969" stroke="#0a0a0a" stroke-width="1.5" stroke-linejoin="round"/>
<path d="M1232.7 1577H1401.7" stroke="#000" stroke-width="4.0" fill="none"/><path d="M1233.7 1569.8v14.4M1400.7 1569.8v14.4" stroke="#000" stroke-width="4.8" fill="none"/>
<path d="M207.16 1970v4.6M213.62 1970v4.6M218.9 1970v4.6M223.37 1970v4.6M227.24 1970v4.6M230.65 1970v4.6M253.78 1970v4.6M265.52 1970v4.6M273.86 1970v4.6M280.32 1970v4.6M285.6 1970v4.6M290.07 1970v4.6M293.94 1970v4.6M297.35 1970v4.6M320.48 1970v4.6M332.22 1970v4.6M340.56 1970v4.6M347.02 1970v4.6M352.3 1970v4.6M356.77 1970v4.6M360.64 1970v4.6M364.05 1970v4.6M387.18 1970v4.6M398.92 1970v4.6M407.26 1970v4.6M413.72 1970v4.6M419 1970v4.6M423.47 1970v4.6M427.34 1970v4.6M430.75 1970v4.6M453.88 1970v4.6M465.62 1970v4.6M473.96 1970v4.6M480.42 1970v4.6M485.7 1970v4.6M490.17 1970v4.6M494.04 1970v4.6M198.7 1954.4h-4M198.7 1939.6h-4M198.7 1924.8h-4M198.7 1910h-4M198.7 1880.4h-4M198.7 1865.6h-4M198.7 1850.8h-4M198.7 1836h-4M198.7 1806.4h-4M198.7 1791.6h-4M198.7 1776.8h-4M198.7 1762h-4M198.7 1732.4h-4M198.7 1717.6h-4M198.7 1702.8h-4" stroke="#3a3a3a" stroke-width="1.6" fill="none" opacity="0.42"/>
<path d="M233.7 1970v8.5M300.4 1970v8.5M367.1 1970v8.5M433.8 1970v8.5M198.7 1895.2h-8M198.7 1821.2h-8M198.7 1747.2h-8" stroke="#222" stroke-width="2.2" fill="none" opacity="0.9"/>
<rect x="197.7" y="1694" width="300.9" height="277" fill="#141414"/>
<rect x="202.3" y="1697.6" width="292.3" height="269.8" fill="#fdfdfd"/>
<path d="M232.69 1967.9L232.69 1967.9L237.08 1966.16L241.5 1964.41L246.03 1962.95L251.04 1960.48L256.03 1957.95L257.66 1952.93L259.63 1948.03L261.03 1942.94L262.97 1938.59L264.61 1934.14L266.04 1929.6L267.26 1924.59L268.69 1919.63L269.88 1914.62L271.04 1909.59L271.53 1905L271.96 1900.4L272.82 1895.85L273.45 1891.28L274.03 1886.69L274.54 1882.11L275.08 1877.52L275.37 1872.91L275.9 1868.19L277.02 1863.58L278.05 1858.95L278.57 1854.23L279.38 1849.56L280.07 1844.58L280.04 1839.54L280.9 1834.58L281.17 1829.56L281.75 1824.57L282.06 1819.56L282.2 1814.53L282.71 1809.54L283.1 1804.85L283.91 1800.22L284.57 1795.56L285.05 1790.89L285.38 1786.2L288.71 1782.86L288.99 1777.51L289.9 1772.21L290.05 1766.85L290.61 1761.52L291.05 1756.18L292.14 1749.54L292.72 1742.84L293.14 1747.86L294.07 1752.82L294.6 1757.83L295.05 1762.85L297.72 1769.52L299.35 1776.2L301.05 1782.86L301.4 1787.67L301.45 1792.5L301.59 1797.32L301.92 1802.14L302.36 1806.95L302.73 1811.76L303.08 1816.57L303.33 1821.39L303.39 1826.22L303.62 1831.06L304.4 1835.84L305.08 1840.64L305.03 1845.51L305.99 1850.28L306.12 1855.13L307.04 1859.91L307.49 1864.73L307.72 1869.57L308.17 1874.34L308.45 1879.12L309.18 1883.86L309.41 1888.65L309.81 1893.42L310.57 1898.16L311.06 1902.92L311.51 1907.72L312.5 1912.45L313.31 1917.2L313.86 1921.99L314.68 1926.73L315.47 1931.49L316.06 1936.27L317.76 1941.26L319.18 1946.35L321.26 1951.21L322.73 1956.28L327.74 1960.43L332.74 1964.62L339.41 1967.9L339.41 1967.9Z" fill="none" stroke="#000" stroke-width="1.5" stroke-linejoin="round"/>
<path d="M295 1868.3H464.3" stroke="#000" stroke-width="4.0" fill="none"/><path d="M296 1861.1v14.4M463.3 1861.1v14.4" stroke="#000" stroke-width="4.8" fill="none"/>
<path d="M519.86 1970v4.6M526.32 1970v4.6M531.6 1970v4.6M536.07 1970v4.6M539.94 1970v4.6M543.35 1970v4.6M566.48 1970v4.6M578.22 1970v4.6M586.56 1970v4.6M593.02 1970v4.6M598.3 1970v4.6M602.77 1970v4.6M606.64 1970v4.6M610.05 1970v4.6M633.18 1970v4.6M644.92 1970v4.6M653.26 1970v4.6M659.72 1970v4.6M665 1970v4.6M669.47 1970v4.6M673.34 1970v4.6M676.75 1970v4.6M699.88 1970v4.6M711.62 1970v4.6M719.96 1970v4.6M726.42 1970v4.6M731.7 1970v4.6M736.17 1970v4.6M740.04 1970v4.6M743.45 1970v4.6M766.58 1970v4.6M778.32 1970v4.6M786.66 1970v4.6M793.12 1970v4.6M798.4 1970v4.6M802.87 1970v4.6M806.74 1970v4.6M511.4 1953.6h-4M511.4 1938h-4M511.4 1922.4h-4M511.4 1906.8h-4M511.4 1875.6h-4M511.4 1860h-4M511.4 1844.4h-4M511.4 1828.8h-4M511.4 1797.6h-4M511.4 1782h-4M511.4 1766.4h-4M511.4 1750.8h-4M511.4 1719.6h-4M511.4 1704h-4" stroke="#3a3a3a" stroke-width="1.6" fill="none" opacity="0.42"/>
<path d="M546.4 1970v8.5M613.1 1970v8.5M679.8 1970v8.5M746.5 1970v8.5M511.4 1891.2h-8M511.4 1813.2h-8M511.4 1735.2h-8" stroke="#222" stroke-width="2.2" fill="none" opacity="0.9"/>
<rect x="510.4" y="1694" width="300.4" height="277" fill="#141414"/>
<rect x="515" y="1697.6" width="291.8" height="269.8" fill="#fdfdfd"/>
<path d="M536.17 1967.9L536.17 1967.9L541.24 1966.5L546.18 1964.62L552.85 1964.81L559.52 1964.62L562.81 1960.42L566.19 1956.28L569.3 1951.13L572.86 1946.28L574.4 1941.23L576.47 1936.36L577.66 1931.2L579.53 1926.27L580.68 1921.54L582.22 1916.93L583.7 1912.31L584.7 1907.54L586.2 1902.92L586.75 1898.13L587.45 1893.37L588.54 1888.66L588.97 1883.85L589.98 1879.13L590.47 1874.33L591.2 1869.57L591.83 1864.76L592.54 1859.96L593.1 1855.15L593.39 1850.3L594.16 1845.51L594.41 1840.65L595.24 1835.87L595.82 1831.05L596.2 1826.22L596.79 1821.23L597.21 1816.22L597.62 1811.22L598.14 1806.23L598.46 1801.22L598.76 1796.2L598.9 1791.18L599.54 1786.2L600.04 1780.84L601.01 1775.54L601.8 1770.22L601.92 1764.82L602.87 1759.52L603.4 1754.83L604.34 1750.2L604.83 1745.5L605.55 1740.84L606.21 1736.17L606.65 1740.87L607.52 1745.51L608.32 1750.16L608.78 1754.86L609.54 1759.52L610.83 1764.8L611.69 1770.16L612.28 1775.57L613.44 1780.88L614.54 1786.2L614.67 1791.21L615.33 1796.19L615.24 1801.21L615.9 1806.19L616.22 1811.19L616 1816.23L616.85 1821.2L616.88 1826.22L617.07 1831.24L617.57 1836.24L618.1 1841.23L618.84 1846.21L619.26 1851.21L619.33 1856.24L619.98 1861.23L620.06 1866.26L620.56 1871.26L621.21 1876.24L621.96 1881L622.6 1885.77L623.25 1890.55L624.21 1895.28L624.76 1900.07L625.4 1904.84L626.22 1909.59L626.98 1914.26L627.98 1918.9L628.37 1923.64L629.16 1928.31L630.22 1932.94L633.16 1937.97L636.22 1942.94L638.58 1947.32L640.52 1951.91L642.89 1956.28L646.19 1960.48L649.56 1964.62L654.56 1967.9L654.56 1967.9Z" fill="#c9c9c9" stroke="#0a0a0a" stroke-width="1.5" stroke-linejoin="round"/>
<path d="M607.7 1868.3H776.7" stroke="#000" stroke-width="4.0" fill="none"/><path d="M608.7 1861.1v14.4M775.7 1861.1v14.4" stroke="#000" stroke-width="4.8" fill="none"/>
<path d="M833.76 1970v4.6M840.22 1970v4.6M845.5 1970v4.6M849.97 1970v4.6M853.84 1970v4.6M857.25 1970v4.6M880.38 1970v4.6M892.12 1970v4.6M900.46 1970v4.6M906.92 1970v4.6M912.2 1970v4.6M916.67 1970v4.6M920.54 1970v4.6M923.95 1970v4.6M947.08 1970v4.6M958.82 1970v4.6M967.16 1970v4.6M973.62 1970v4.6M978.9 1970v4.6M983.37 1970v4.6M987.24 1970v4.6M990.65 1970v4.6M1013.78 1970v4.6M1025.52 1970v4.6M1033.86 1970v4.6M1040.32 1970v4.6M1045.6 1970v4.6M1050.07 1970v4.6M1053.94 1970v4.6M1057.35 1970v4.6M1080.48 1970v4.6M1092.22 1970v4.6M1100.56 1970v4.6M1107.02 1970v4.6M1112.3 1970v4.6M1116.77 1970v4.6M1120.64 1970v4.6M825.3 1959.9h-4M825.3 1950.6h-4M825.3 1941.3h-4M825.3 1932h-4M825.3 1913.4h-4M825.3 1904.1h-4M825.3 1894.8h-4M825.3 1885.5h-4M825.3 1866.9h-4M825.3 1857.6h-4M825.3 1848.3h-4M825.3 1839h-4M825.3 1820.4h-4M825.3 1811.1h-4M825.3 1801.8h-4M825.3 1792.5h-4M825.3 1773.9h-4M825.3 1764.6h-4M825.3 1755.3h-4M825.3 1746h-4M825.3 1727.4h-4M825.3 1718.1h-4M825.3 1708.8h-4M825.3 1699.5h-4" stroke="#3a3a3a" stroke-width="1.6" fill="none" opacity="0.42"/>
<path d="M860.3 1970v8.5M927 1970v8.5M993.7 1970v8.5M1060.4 1970v8.5M825.3 1922.7h-8M825.3 1876.2h-8M825.3 1829.7h-8M825.3 1783.2h-8M825.3 1736.7h-8" stroke="#222" stroke-width="2.2" fill="none" opacity="0.9"/>
<rect x="824.3" y="1694" width="299.7" height="277" fill="#141414"/>
<rect x="828.9" y="1697.6" width="291.1" height="269.8" fill="#fdfdfd"/>
<path d="M880.03 1967.9L880.03 1967.9L885.09 1966.91L890.04 1964.62L895.11 1961.4L900.04 1957.95L902.06 1952.86L904.38 1947.9L906.71 1942.94L907.99 1937.94L909.31 1932.96L910.69 1927.99L911.71 1922.93L912.61 1918.2L912.85 1913.39L913.75 1908.66L914.14 1903.87L914.63 1899.09L915.15 1894.31L916.05 1889.58L916.4 1884.56L917.19 1879.59L917.29 1874.55L918 1869.57L918.42 1864.55L918.84 1859.54L919.26 1854.53L920.05 1849.56L920.27 1844.54L920.9 1839.56L921.36 1834.56L921.53 1829.53L922.28 1824.56L922.85 1819.57L923.26 1814.57L923.39 1809.54L923.48 1804.52L923.91 1799.53L924.14 1794.52L924.89 1789.54L925.03 1784.53L925.2 1779.51L925.65 1774.52L926.05 1769.52L926.35 1764.75L926.73 1759.98L926.97 1755.21L927.86 1750.49L927.99 1745.7L928.14 1740.92L928.72 1736.17L930.06 1730.79L931.72 1725.5L935.06 1729.5L936.05 1734.57L937.35 1739.56L938.98 1744.47L940.06 1749.51L940.48 1754.51L941.02 1759.5L940.82 1764.53L941.54 1769.51L941.96 1774.51L942.02 1779.53L942.36 1784.53L942.73 1789.53L943.09 1794.54L943.66 1799.53L944.06 1804.53L944.14 1809.56L944.87 1814.54L945.16 1819.55L945.48 1824.56L946.06 1829.55L946.66 1834.35L947.11 1839.17L947.65 1843.98L947.96 1848.81L948.19 1853.65L948.45 1858.48L949.07 1863.28L949.83 1868.07L950.07 1872.91L950.69 1877.71L951.3 1882.53L951.81 1887.35L952.22 1892.18L953.11 1896.96L953.64 1901.78L953.98 1906.62L954.73 1911.42L955.07 1916.26L955.81 1920.98L957.26 1925.56L958.11 1930.26L959.35 1934.88L960.07 1939.61L962.46 1945.1L964.36 1950.78L966.74 1956.28L969.86 1960.62L973.41 1964.62L977.45 1967.03L981.75 1967.9L981.75 1967.9Z" fill="#000000" stroke="#000000" stroke-width="1.2" stroke-linejoin="round"/>
<path d="M921.4 1868.3H1090.7" stroke="#000" stroke-width="4.0" fill="none"/><path d="M922.4 1861.1v14.4M1089.7 1861.1v14.4" stroke="#000" stroke-width="4.8" fill="none"/>
<path d="M1144.96 1970v4.6M1151.42 1970v4.6M1156.7 1970v4.6M1161.17 1970v4.6M1165.04 1970v4.6M1168.45 1970v4.6M1191.58 1970v4.6M1203.32 1970v4.6M1211.66 1970v4.6M1218.12 1970v4.6M1223.4 1970v4.6M1227.87 1970v4.6M1231.74 1970v4.6M1235.15 1970v4.6M1258.28 1970v4.6M1270.02 1970v4.6M1278.36 1970v4.6M1284.82 1970v4.6M1290.1 1970v4.6M1294.57 1970v4.6M1298.44 1970v4.6M1301.85 1970v4.6M1324.98 1970v4.6M1336.72 1970v4.6M1345.06 1970v4.6M1351.52 1970v4.6M1356.8 1970v4.6M1361.27 1970v4.6M1365.14 1970v4.6M1368.55 1970v4.6M1391.68 1970v4.6M1403.42 1970v4.6M1411.76 1970v4.6M1418.22 1970v4.6M1423.5 1970v4.6M1427.97 1970v4.6M1431.84 1970v4.6M1136.5 1952.4h-4M1136.5 1935.6h-4M1136.5 1918.8h-4M1136.5 1902h-4M1136.5 1868.4h-4M1136.5 1851.6h-4M1136.5 1834.8h-4M1136.5 1818h-4M1136.5 1784.4h-4M1136.5 1767.6h-4M1136.5 1750.8h-4M1136.5 1734h-4M1136.5 1700.4h-4" stroke="#3a3a3a" stroke-width="1.6" fill="none" opacity="0.42"/>
<path d="M1171.5 1970v8.5M1238.2 1970v8.5M1304.9 1970v8.5M1371.6 1970v8.5M1136.5 1885.2h-8M1136.5 1801.2h-8M1136.5 1717.2h-8" stroke="#222" stroke-width="2.2" fill="none" opacity="0.9"/>
<rect x="1135.5" y="1694" width="300" height="277" fill="#141414"/>
<rect x="1140.1" y="1697.6" width="291.4" height="269.8" fill="#fdfdfd"/>
<path d="M1190.19 1967.9L1190.19 1967.9L1195.21 1966.83L1200.19 1964.62L1205.28 1960.55L1210.2 1956.28L1212.67 1951.96L1214.63 1947.38L1216.87 1942.94L1218.14 1937.94L1219.56 1932.98L1220.37 1927.87L1221.87 1922.93L1222.73 1917.57L1223.68 1912.22L1224.78 1906.91L1225.78 1901.57L1226.87 1896.25L1227.52 1891.5L1227.95 1886.71L1228.8 1881.98L1229.2 1877.2L1229.9 1872.45L1230.51 1867.69L1230.87 1862.9L1231.28 1858.23L1231.52 1853.54L1231.99 1848.88L1232.74 1844.24L1233.25 1839.57L1233.57 1834.9L1233.64 1830.19L1234.05 1825.52L1235.04 1820.9L1235.21 1816.21L1235.82 1811.21L1236.45 1806.22L1237.03 1801.22L1237.53 1796.22L1238.1 1791.22L1238.17 1786.16L1239.12 1781.21L1239.54 1776.19L1240.11 1771.51L1240.6 1766.81L1241.45 1762.17L1242.02 1757.49L1242.88 1752.85L1244.4 1747.79L1246.21 1742.84L1250.22 1741.17L1250.74 1746.61L1251.66 1752L1251.92 1757.47L1252.88 1762.85L1253.44 1767.86L1254.25 1772.83L1254.78 1777.84L1255.22 1782.86L1255.48 1787.65L1255.88 1792.42L1256.49 1797.17L1257.07 1801.92L1257.52 1806.69L1258.3 1811.42L1258.55 1816.21L1259.09 1821.2L1259.23 1826.23L1259.96 1831.2L1260.47 1836.2L1260.88 1841.2L1261.32 1846.2L1261.69 1851.21L1261.89 1856.23L1262.1 1861.25L1262.85 1866.22L1263.06 1871.24L1263.77 1876.22L1263.76 1881.26L1264.67 1886.22L1264.59 1891.27L1265.22 1896.25L1266.06 1901.25L1266.62 1906.3L1267.65 1911.27L1268.38 1916.29L1269.59 1921.23L1270.23 1926.27L1271.76 1930.88L1272.84 1935.62L1274.06 1940.32L1275.44 1944.98L1276.9 1949.61L1279.32 1953.96L1281.59 1958.38L1283.57 1962.95L1288.58 1965.94L1293.57 1967.9L1293.57 1967.9Z" fill="#696969" stroke="#0a0a0a" stroke-width="1.5" stroke-linejoin="round"/>
<path d="M1232.7 1868.3H1401.7" stroke="#000" stroke-width="4.0" fill="none"/><path d="M1233.7 1861.1v14.4M1400.7 1861.1v14.4" stroke="#000" stroke-width="4.8" fill="none"/>
<path d="M207.16 2362v4.6M213.62 2362v4.6M218.9 2362v4.6M223.37 2362v4.6M227.24 2362v4.6M230.65 2362v4.6M253.78 2362v4.6M265.52 2362v4.6M273.86 2362v4.6M280.32 2362v4.6M285.6 2362v4.6M290.07 2362v4.6M293.94 2362v4.6M297.35 2362v4.6M320.48 2362v4.6M332.22 2362v4.6M340.56 2362v4.6M347.02 2362v4.6M352.3 2362v4.6M356.77 2362v4.6M360.64 2362v4.6M364.05 2362v4.6M387.18 2362v4.6M398.92 2362v4.6M407.26 2362v4.6M413.72 2362v4.6M419 2362v4.6M423.47 2362v4.6M427.34 2362v4.6M430.75 2362v4.6M453.88 2362v4.6M465.62 2362v4.6M473.96 2362v4.6M480.42 2362v4.6M485.7 2362v4.6M490.17 2362v4.6M494.04 2362v4.6M198.7 2344.4h-4M198.7 2327.6h-4M198.7 2310.8h-4M198.7 2294h-4M198.7 2260.4h-4M198.7 2243.6h-4M198.7 2226.8h-4M198.7 2210h-4M198.7 2176.4h-4M198.7 2159.6h-4M198.7 2142.8h-4M198.7 2126h-4M198.7 2092.4h-4" stroke="#3a3a3a" stroke-width="1.6" fill="none" opacity="0.42"/>
<path d="M233.7 2362v8.5M300.4 2362v8.5M367.1 2362v8.5M433.8 2362v8.5M198.7 2277.2h-8M198.7 2193.2h-8M198.7 2109.2h-8" stroke="#222" stroke-width="2.2" fill="none" opacity="0.9"/>
<rect x="197.7" y="2085" width="300.9" height="278" fill="#141414"/>
<rect x="202.3" y="2088.6" width="292.3" height="270.8" fill="#fdfdfd"/>
<path d="M236.02 2359.9L236.02 2359.15L241 2358.46L246.03 2358.15L250.95 2353.89L256.03 2349.82L260.24 2346.54L264.37 2343.15L266.42 2338.62L269.06 2334.38L271.04 2329.81L272.31 2325.12L273.51 2320.41L274.71 2315.7L276.66 2311.21L277.71 2306.46L278.7 2301.14L279.64 2295.82L280.49 2290.48L281.33 2285.14L282.04 2279.78L282.51 2274.75L283.65 2269.81L284.12 2264.78L284.85 2259.79L285.52 2254.79L286.05 2249.77L286.88 2245.12L287.44 2240.44L287.73 2235.71L288.92 2231.12L289.38 2226.42L289.72 2221.7L289.97 2216.97L290.25 2212.25L290.15 2207.5L290.49 2202.78L291.17 2198.08L291.34 2193.35L291.74 2188.63L291.71 2183.89L291.86 2179.16L292.32 2174.44L292.72 2169.73L295.38 2166.39L295.69 2161.04L296.41 2155.73L296.64 2150.37L297.5 2145.07L297.72 2139.71L298.28 2134.71L298.78 2129.69L299.74 2124.73L300.05 2119.7L300.59 2124.72L301.16 2129.73L302.31 2134.67L302.72 2139.71L303.58 2144.35L304.04 2149.05L304.9 2153.69L305.36 2158.39L306.06 2163.06L307.14 2168.67L308.8 2174.15L310.06 2179.73L311.41 2184.73L312.73 2189.74L312.73 2194.56L313.29 2199.36L313.61 2204.17L313.52 2209L313.96 2213.81L313.54 2218.65L314.31 2223.44L314.41 2228.27L314.39 2233.09L314.8 2237.86L315.3 2242.62L315.77 2247.39L316.54 2252.12L316.75 2256.91L317.5 2261.65L317.73 2266.44L318.05 2271.47L318.52 2276.48L319.33 2281.46L320.13 2286.43L320.47 2291.46L321.06 2296.46L321.72 2301.45L322.18 2306.46L322.99 2311.43L323.55 2316.44L323.87 2321.46L324.4 2326.47L326.14 2330.89L327.56 2335.43L329.4 2339.81L332.94 2344.67L336.07 2349.82L340.09 2353.65L344.41 2357.15L352.75 2359.82L352.75 2359.9Z" fill="none" stroke="#000" stroke-width="1.5" stroke-linejoin="round"/>
<path d="M302.7 2246.3H465.3" stroke="#000" stroke-width="3.5" fill="none"/><path d="M303.7 2239.1v14.4M464.3 2239.1v14.4" stroke="#000" stroke-width="4.3" fill="none"/>
<path d="M519.86 2362v4.6M526.32 2362v4.6M531.6 2362v4.6M536.07 2362v4.6M539.94 2362v4.6M543.35 2362v4.6M566.48 2362v4.6M578.22 2362v4.6M586.56 2362v4.6M593.02 2362v4.6M598.3 2362v4.6M602.77 2362v4.6M606.64 2362v4.6M610.05 2362v4.6M633.18 2362v4.6M644.92 2362v4.6M653.26 2362v4.6M659.72 2362v4.6M665 2362v4.6M669.47 2362v4.6M673.34 2362v4.6M676.75 2362v4.6M699.88 2362v4.6M711.62 2362v4.6M719.96 2362v4.6M726.42 2362v4.6M731.7 2362v4.6M736.17 2362v4.6M740.04 2362v4.6M743.45 2362v4.6M766.58 2362v4.6M778.32 2362v4.6M786.66 2362v4.6M793.12 2362v4.6M798.4 2362v4.6M802.87 2362v4.6M806.74 2362v4.6M511.4 2343.8h-4M511.4 2326.4h-4M511.4 2309h-4M511.4 2291.6h-4M511.4 2256.8h-4M511.4 2239.4h-4M511.4 2222h-4M511.4 2204.6h-4M511.4 2169.8h-4M511.4 2152.4h-4M511.4 2135h-4M511.4 2117.6h-4" stroke="#3a3a3a" stroke-width="1.6" fill="none" opacity="0.42"/>
<path d="M546.4 2362v8.5M613.1 2362v8.5M679.8 2362v8.5M746.5 2362v8.5M511.4 2274.2h-8M511.4 2187.2h-8M511.4 2100.2h-8" stroke="#222" stroke-width="2.2" fill="none" opacity="0.9"/>
<rect x="510.4" y="2085" width="300.4" height="278" fill="#141414"/>
<rect x="515" y="2088.6" width="291.8" height="270.8" fill="#fdfdfd"/>
<path d="M542.84 2359.9L542.84 2359.15L547.84 2358.75L552.85 2358.8L557.83 2358.09L562.85 2358.15L567.26 2354.23L571.19 2349.82L574.3 2344.66L577.86 2339.81L579.89 2335.27L582.11 2330.82L584.53 2326.47L585.51 2321.13L586.23 2315.74L587.67 2310.49L588.43 2305.11L589.53 2299.79L590.83 2294.51L591.54 2289.12L592.63 2283.8L593.39 2278.42L594.53 2273.11L595.35 2268.13L595.71 2263.1L596.7 2258.14L596.92 2253.09L597.75 2248.11L598.09 2243.07L599.23 2238.13L599.54 2233.09L600.18 2228.1L600.49 2223.08L601.35 2218.11L601.79 2213.11L601.72 2208.05L602.38 2203.06L602.79 2198.05L603.54 2193.07L604.05 2188.04L604.9 2183.05L605.37 2178.01L606.53 2173.07L607.24 2168.07L607.87 2163.06L608.98 2158.41L610.01 2153.75L610.9 2149.05L611.83 2144.37L612.88 2139.71L613.95 2134.64L615.65 2129.73L616.88 2124.7L617.86 2129.73L619.1 2134.71L620.21 2139.71L621.08 2145.01L621.25 2150.38L621.82 2155.72L622.51 2161.04L622.88 2166.39L623.42 2171.74L624.01 2177.09L624.9 2182.4L625.6 2187.73L626.22 2193.07L626.9 2197.81L627.5 2202.57L627.94 2207.33L628.21 2212.12L628.58 2216.89L629.38 2221.63L629.55 2226.42L630.21 2231.4L630.18 2236.44L630.7 2241.44L631.2 2246.43L631.57 2251.44L632.06 2256.43L632.55 2261.43L632.89 2266.44L633.76 2271.41L634.02 2276.46L634.7 2281.45L635.54 2286.43L635.74 2291.49L636.63 2296.46L637.5 2301.43L637.89 2306.46L638.57 2311.49L639.73 2316.44L640.24 2321.49L641.49 2326.43L642.07 2331.47L642.89 2336.48L645.85 2340.81L648.54 2345.31L651.23 2349.82L655.35 2353.54L659.57 2357.15L664.58 2358.45L669.57 2359.82L669.57 2359.9Z" fill="#c9c9c9" stroke="#0a0a0a" stroke-width="1.5" stroke-linejoin="round"/>
<path d="M615.3 2246.3H777.7" stroke="#000" stroke-width="3.5" fill="none"/><path d="M616.3 2239.1v14.4M776.7 2239.1v14.4" stroke="#000" stroke-width="4.3" fill="none"/>
<path d="M833.76 2362v4.6M840.22 2362v4.6M845.5 2362v4.6M849.97 2362v4.6M853.84 2362v4.6M857.25 2362v4.6M880.38 2362v4.6M892.12 2362v4.6M900.46 2362v4.6M906.92 2362v4.6M912.2 2362v4.6M916.67 2362v4.6M920.54 2362v4.6M923.95 2362v4.6M947.08 2362v4.6M958.82 2362v4.6M967.16 2362v4.6M973.62 2362v4.6M978.9 2362v4.6M983.37 2362v4.6M987.24 2362v4.6M990.65 2362v4.6M1013.78 2362v4.6M1025.52 2362v4.6M1033.86 2362v4.6M1040.32 2362v4.6M1045.6 2362v4.6M1050.07 2362v4.6M1053.94 2362v4.6M1057.35 2362v4.6M1080.48 2362v4.6M1092.22 2362v4.6M1100.56 2362v4.6M1107.02 2362v4.6M1112.3 2362v4.6M1116.77 2362v4.6M1120.64 2362v4.6M825.3 2350.94h-4M825.3 2340.68h-4M825.3 2330.42h-4M825.3 2320.16h-4M825.3 2299.64h-4M825.3 2289.38h-4M825.3 2279.12h-4M825.3 2268.86h-4M825.3 2248.34h-4M825.3 2238.08h-4M825.3 2227.82h-4M825.3 2217.56h-4M825.3 2197.04h-4M825.3 2186.78h-4M825.3 2176.52h-4M825.3 2166.26h-4M825.3 2145.74h-4M825.3 2135.48h-4M825.3 2125.22h-4M825.3 2114.96h-4M825.3 2094.44h-4" stroke="#3a3a3a" stroke-width="1.6" fill="none" opacity="0.42"/>
<path d="M860.3 2362v8.5M927 2362v8.5M993.7 2362v8.5M1060.4 2362v8.5M825.3 2309.9h-8M825.3 2258.6h-8M825.3 2207.3h-8M825.3 2156h-8M825.3 2104.7h-8" stroke="#222" stroke-width="2.2" fill="none" opacity="0.9"/>
<rect x="824.3" y="2085" width="299.7" height="278" fill="#141414"/>
<rect x="828.9" y="2088.6" width="291.1" height="270.8" fill="#fdfdfd"/>
<path d="M906.71 2359.9L906.71 2359.15L910.98 2357.18L915.05 2354.82L917.63 2350.7L920.05 2346.48L922.53 2341.47L925.05 2336.48L928.14 2331.31L931.72 2326.47L932.98 2320.94L933.8 2315.32L935.06 2309.8L935.83 2304.47L936.14 2299.09L937.26 2293.81L937.57 2288.43L938.39 2283.12L939.14 2278.12L939.67 2273.09L940.77 2268.14L941.33 2263.11L941.99 2258.1L942.73 2253.1L943.7 2247.8L943.85 2242.4L944.57 2237.07L945.26 2231.74L946.06 2226.42L946.08 2221.07L946.47 2215.74L946.74 2210.41L946.84 2205.06L947.4 2199.74L948.74 2195.26L950.17 2190.81L951.73 2186.4L953.18 2180.91L954.21 2175.33L955.07 2169.73L956 2164.13L957.48 2158.65L958.4 2153.05L960.05 2147.21L961.74 2141.38L964.07 2140.38L965.05 2145.67L965.2 2151.07L966.07 2156.39L967.86 2163.03L969.41 2169.73L970.45 2174.26L971.79 2178.7L973.41 2183.07L973.65 2187.74L974.08 2192.4L974.16 2197.09L974.62 2201.75L975.08 2206.41L975.93 2211.08L976.85 2215.74L977.95 2220.37L978.5 2225.09L979.41 2229.76L980.02 2234.75L980.27 2239.79L981.4 2244.73L981.77 2249.75L981.92 2254.8L982.75 2259.77L983.43 2265.12L984.36 2270.44L985.27 2275.76L986.03 2281.1L986.75 2286.45L987.59 2291.82L988.52 2297.17L989.68 2302.47L990.79 2307.79L991.75 2313.13L993.57 2318.64L995.17 2324.22L996.76 2329.81L998.28 2335.41L999.89 2340.98L1001.76 2346.48L1004.96 2350.76L1008.43 2354.82L1014.35 2356.76L1020.1 2359.15L1020.1 2359.9Z" fill="#000000" stroke="#000000" stroke-width="1.2" stroke-linejoin="round"/>
<path d="M927.3 2246.3H1090.7" stroke="#000" stroke-width="3.5" fill="none"/><path d="M928.3 2239.1v14.4M1089.7 2239.1v14.4" stroke="#000" stroke-width="4.3" fill="none"/>
<path d="M1144.96 2362v4.6M1151.42 2362v4.6M1156.7 2362v4.6M1161.17 2362v4.6M1165.04 2362v4.6M1168.45 2362v4.6M1191.58 2362v4.6M1203.32 2362v4.6M1211.66 2362v4.6M1218.12 2362v4.6M1223.4 2362v4.6M1227.87 2362v4.6M1231.74 2362v4.6M1235.15 2362v4.6M1258.28 2362v4.6M1270.02 2362v4.6M1278.36 2362v4.6M1284.82 2362v4.6M1290.1 2362v4.6M1294.57 2362v4.6M1298.44 2362v4.6M1301.85 2362v4.6M1324.98 2362v4.6M1336.72 2362v4.6M1345.06 2362v4.6M1351.52 2362v4.6M1356.8 2362v4.6M1361.27 2362v4.6M1365.14 2362v4.6M1368.55 2362v4.6M1391.68 2362v4.6M1403.42 2362v4.6M1411.76 2362v4.6M1418.22 2362v4.6M1423.5 2362v4.6M1427.97 2362v4.6M1431.84 2362v4.6M1136.5 2350.24h-4M1136.5 2339.28h-4M1136.5 2328.32h-4M1136.5 2317.36h-4M1136.5 2295.44h-4M1136.5 2284.48h-4M1136.5 2273.52h-4M1136.5 2262.56h-4M1136.5 2240.64h-4M1136.5 2229.68h-4M1136.5 2218.72h-4M1136.5 2207.76h-4M1136.5 2185.84h-4M1136.5 2174.88h-4M1136.5 2163.92h-4M1136.5 2152.96h-4M1136.5 2131.04h-4M1136.5 2120.08h-4M1136.5 2109.12h-4M1136.5 2098.16h-4" stroke="#3a3a3a" stroke-width="1.6" fill="none" opacity="0.42"/>
<path d="M1171.5 2362v8.5M1238.2 2362v8.5M1304.9 2362v8.5M1371.6 2362v8.5M1136.5 2306.4h-8M1136.5 2251.6h-8M1136.5 2196.8h-8M1136.5 2142h-8" stroke="#222" stroke-width="2.2" fill="none" opacity="0.9"/>
<rect x="1135.5" y="2085" width="300" height="278" fill="#141414"/>
<rect x="1140.1" y="2088.6" width="291.4" height="270.8" fill="#fdfdfd"/>
<path d="M1183.52 2359.9L1183.52 2359.15L1189.34 2357.77L1195.19 2356.49L1200.19 2349.82L1206.86 2346.48L1208.85 2342.26L1211.31 2338.28L1213.27 2334.05L1215.2 2329.81L1216.27 2324.76L1217.54 2319.76L1218.65 2314.72L1220.2 2309.8L1220.87 2304.76L1221.9 2299.8L1223 2294.84L1223.84 2289.84L1224.51 2284.81L1225.2 2279.78L1225.56 2274.98L1226.33 2270.24L1227.32 2265.52L1228.03 2260.77L1228.13 2255.94L1228.68 2251.16L1229.54 2246.43L1230.11 2241.43L1230.4 2236.41L1230.91 2231.41L1231.5 2226.42L1232.3 2221.44L1232.21 2216.38L1233.31 2211.44L1233.54 2206.41L1234.1 2201.6L1234.62 2196.79L1234.65 2191.94L1235.26 2187.14L1235.72 2182.32L1236.31 2177.52L1236.43 2172.67L1237.35 2167.9L1237.54 2163.06L1241.88 2158.05L1242.92 2152.66L1243.3 2147.18L1244.37 2141.79L1245.21 2136.38L1246.74 2131.42L1247.89 2126.37L1249.21 2121.37L1250.04 2126.43L1251.46 2131.37L1252.55 2136.38L1253.04 2141.4L1253.86 2146.38L1254.57 2151.38L1255.22 2156.39L1256.18 2161.01L1256.34 2165.75L1257.42 2170.36L1257.7 2175.09L1258.55 2179.73L1258.77 2184.5L1259.48 2189.24L1259.3 2194.04L1259.77 2198.8L1260.53 2203.53L1260.55 2208.32L1260.89 2213.08L1265.22 2219.75L1265.77 2224.8L1266.65 2229.8L1267.66 2234.77L1268.56 2239.76L1269.19 2245.1L1269.6 2250.47L1270.85 2255.73L1271.21 2261.11L1271.89 2266.44L1273.09 2271.45L1274.64 2276.38L1275.62 2281.45L1276.9 2286.45L1277.81 2291.14L1279.07 2295.75L1280.09 2300.41L1281.09 2305.09L1281.9 2309.8L1282.84 2314.87L1284.65 2319.74L1285.83 2324.76L1286.9 2329.81L1289.08 2334.27L1291.37 2338.68L1293.57 2343.15L1298.57 2348.15L1303.58 2348.15L1308.58 2354.82L1312.72 2357.04L1316.92 2359.15L1316.92 2359.9Z" fill="#696969" stroke="#0a0a0a" stroke-width="1.5" stroke-linejoin="round"/>
<path d="M1240 2246.3H1402.3" stroke="#000" stroke-width="3.5" fill="none"/><path d="M1241 2239.1v14.4M1401.3 2239.1v14.4" stroke="#000" stroke-width="4.3" fill="none"/>
<path d="M207.16 2657v4.6M213.62 2657v4.6M218.9 2657v4.6M223.37 2657v4.6M227.24 2657v4.6M230.65 2657v4.6M253.78 2657v4.6M265.52 2657v4.6M273.86 2657v4.6M280.32 2657v4.6M285.6 2657v4.6M290.07 2657v4.6M293.94 2657v4.6M297.35 2657v4.6M320.48 2657v4.6M332.22 2657v4.6M340.56 2657v4.6M347.02 2657v4.6M352.3 2657v4.6M356.77 2657v4.6M360.64 2657v4.6M364.05 2657v4.6M387.18 2657v4.6M398.92 2657v4.6M407.26 2657v4.6M413.72 2657v4.6M419 2657v4.6M423.47 2657v4.6M427.34 2657v4.6M430.75 2657v4.6M453.88 2657v4.6M465.62 2657v4.6M473.96 2657v4.6M480.42 2657v4.6M485.7 2657v4.6M490.17 2657v4.6M494.04 2657v4.6M198.7 2639.4h-4M198.7 2622.6h-4M198.7 2605.8h-4M198.7 2589h-4M198.7 2555.4h-4M198.7 2538.6h-4M198.7 2521.8h-4M198.7 2505h-4M198.7 2471.4h-4M198.7 2454.6h-4M198.7 2437.8h-4M198.7 2421h-4M198.7 2387.4h-4" stroke="#3a3a3a" stroke-width="1.6" fill="none" opacity="0.42"/>
<path d="M233.7 2657v8.5M300.4 2657v8.5M367.1 2657v8.5M433.8 2657v8.5M198.7 2572.2h-8M198.7 2488.2h-8M198.7 2404.2h-8" stroke="#222" stroke-width="2.2" fill="none" opacity="0.9"/>
<rect x="197.7" y="2380.5" width="300.9" height="277.5" fill="#141414"/>
<rect x="202.3" y="2384.1" width="292.3" height="270.3" fill="#fdfdfd"/>
<path d="M239.36 2654.9L239.36 2654.9L243.84 2653.4L248.28 2651.71L252.7 2649.97L258.66 2646.85L264.37 2643.3L266.03 2638.85L267.69 2634.4L269.37 2629.96L271.34 2624.91L273.77 2620.04L275.59 2614.93L277.71 2609.95L278.64 2605.29L279.36 2600.59L280.05 2595.89L281.48 2591.33L282.04 2586.6L282.52 2581.21L283.84 2575.96L284.53 2570.61L285.45 2565.29L286.05 2559.92L286.56 2554.92L287.01 2549.91L287.42 2544.9L288.14 2539.92L288.21 2534.87L289 2529.9L289.81 2524.93L290.05 2519.9L290.31 2515.11L291 2510.37L291.74 2505.63L291.98 2500.85L292.2 2496.06L292.77 2491.3L293.38 2486.55L294.18 2481.2L295.11 2475.88L295.77 2470.51L296.83 2465.2L297.72 2459.87L298.53 2454.55L299.16 2449.21L299.78 2443.87L300.08 2438.49L301.05 2433.19L301.81 2427.61L302.6 2422.04L303.72 2416.52L306.72 2423.19L310.06 2429.86L310.57 2434.66L310.88 2439.48L310.61 2444.33L311.39 2449.11L311.29 2453.96L311.77 2458.76L312.02 2463.58L312.45 2468.39L312.73 2473.21L313 2478.22L313.53 2483.22L314.09 2488.21L314.68 2493.2L314.86 2498.22L315.4 2503.21L315.67 2508.23L316.06 2513.23L316.8 2518.21L316.93 2523.25L317.29 2528.26L317.72 2533.27L318.26 2538.27L319.39 2543.21L319.53 2548.25L320.06 2553.25L320.41 2557.86L321.33 2562.4L321.75 2567L322.57 2571.55L322.49 2576.21L323.3 2580.77L324.07 2585.32L324.4 2589.94L325.5 2595.23L326.43 2600.56L327.2 2605.91L327.78 2611.29L328.73 2616.62L330.43 2621.54L331.77 2626.56L333.08 2631.6L334.4 2636.63L336.66 2641.06L338.55 2645.67L341.07 2649.97L345.38 2652.24L349.41 2654.9L349.41 2654.9Z" fill="none" stroke="#000" stroke-width="1.5" stroke-linejoin="round"/>
<path d="M302.7 2541.3H465.3" stroke="#000" stroke-width="3.5" fill="none"/><path d="M303.7 2534.1v14.4M464.3 2534.1v14.4" stroke="#000" stroke-width="4.3" fill="none"/>
<path d="M519.86 2657v4.6M526.32 2657v4.6M531.6 2657v4.6M536.07 2657v4.6M539.94 2657v4.6M543.35 2657v4.6M566.48 2657v4.6M578.22 2657v4.6M586.56 2657v4.6M593.02 2657v4.6M598.3 2657v4.6M602.77 2657v4.6M606.64 2657v4.6M610.05 2657v4.6M633.18 2657v4.6M644.92 2657v4.6M653.26 2657v4.6M659.72 2657v4.6M665 2657v4.6M669.47 2657v4.6M673.34 2657v4.6M676.75 2657v4.6M699.88 2657v4.6M711.62 2657v4.6M719.96 2657v4.6M726.42 2657v4.6M731.7 2657v4.6M736.17 2657v4.6M740.04 2657v4.6M743.45 2657v4.6M766.58 2657v4.6M778.32 2657v4.6M786.66 2657v4.6M793.12 2657v4.6M798.4 2657v4.6M802.87 2657v4.6M806.74 2657v4.6M511.4 2639.5h-4M511.4 2622.8h-4M511.4 2606.1h-4M511.4 2589.4h-4M511.4 2556h-4M511.4 2539.3h-4M511.4 2522.6h-4M511.4 2505.9h-4M511.4 2472.5h-4M511.4 2455.8h-4M511.4 2439.1h-4M511.4 2422.4h-4M511.4 2389h-4" stroke="#3a3a3a" stroke-width="1.6" fill="none" opacity="0.42"/>
<path d="M546.4 2657v8.5M613.1 2657v8.5M679.8 2657v8.5M746.5 2657v8.5M511.4 2572.7h-8M511.4 2489.2h-8M511.4 2405.7h-8" stroke="#222" stroke-width="2.2" fill="none" opacity="0.9"/>
<rect x="510.4" y="2380.5" width="300.4" height="277.5" fill="#141414"/>
<rect x="515" y="2384.1" width="291.8" height="270.3" fill="#fdfdfd"/>
<path d="M549.51 2654.9L549.51 2654.9L555.05 2653.78L560.56 2652.41L566.19 2651.63L571.4 2647.72L576.19 2643.3L578.48 2638.88L580.71 2634.44L582.86 2629.96L584.4 2624.91L585.89 2619.85L588.14 2615.04L589.53 2609.95L590.73 2605.32L591.29 2600.56L592.52 2595.93L593.55 2591.27L594.53 2586.6L595.33 2581.85L596.09 2577.09L596.86 2572.33L597.6 2567.57L597.89 2562.75L598.77 2558.01L599.54 2553.25L600.07 2548.24L600.63 2543.23L601.08 2538.2L602.19 2533.26L602.77 2528.25L603.23 2523.23L604.11 2518.26L604.54 2513.23L605.09 2508.63L605.49 2504.02L606.55 2499.49L607.04 2494.89L607.69 2490.31L608 2485.68L608.9 2481.13L609.54 2476.55L610.3 2471.99L610.79 2467.4L611.03 2462.79L611.31 2458.18L612.14 2453.63L612.83 2449.06L613.3 2444.47L613.54 2439.86L615.33 2433.22L616.88 2426.52L620.21 2421.52L620.6 2426.56L621.67 2431.51L622.41 2436.5L622.63 2441.56L623.55 2446.53L623.88 2451.12L624.66 2455.68L625.07 2460.26L625.16 2464.88L625.71 2469.45L625.84 2474.06L626.12 2478.66L626.88 2483.22L627.61 2487.77L627.79 2492.38L628.28 2496.96L628.63 2501.55L628.69 2506.17L629.32 2510.73L629.96 2515.3L630.22 2519.9L630.8 2524.9L631.55 2529.88L631.87 2534.9L632.26 2539.92L633.13 2544.89L633.28 2549.94L633.92 2554.93L634.55 2559.92L635.08 2564.7L635.6 2569.47L636.2 2574.24L636.94 2578.99L637.57 2583.75L638.03 2588.54L638.89 2593.27L639.95 2598.25L640.78 2603.28L642.01 2608.22L642.92 2613.23L643.71 2618.26L644.56 2623.29L646.58 2628.92L649.2 2634.32L651.23 2639.96L655.23 2645.1L659.57 2649.97L663.58 2652.72L667.9 2654.9L667.9 2654.9Z" fill="#c9c9c9" stroke="#0a0a0a" stroke-width="1.5" stroke-linejoin="round"/>
<path d="M615.3 2541.3H777.7" stroke="#000" stroke-width="3.5" fill="none"/><path d="M616.3 2534.1v14.4M776.7 2534.1v14.4" stroke="#000" stroke-width="4.3" fill="none"/>
<path d="M833.76 2657v4.6M840.22 2657v4.6M845.5 2657v4.6M849.97 2657v4.6M853.84 2657v4.6M857.25 2657v4.6M880.38 2657v4.6M892.12 2657v4.6M900.46 2657v4.6M906.92 2657v4.6M912.2 2657v4.6M916.67 2657v4.6M920.54 2657v4.6M923.95 2657v4.6M947.08 2657v4.6M958.82 2657v4.6M967.16 2657v4.6M973.62 2657v4.6M978.9 2657v4.6M983.37 2657v4.6M987.24 2657v4.6M990.65 2657v4.6M1013.78 2657v4.6M1025.52 2657v4.6M1033.86 2657v4.6M1040.32 2657v4.6M1045.6 2657v4.6M1050.07 2657v4.6M1053.94 2657v4.6M1057.35 2657v4.6M1080.48 2657v4.6M1092.22 2657v4.6M1100.56 2657v4.6M1107.02 2657v4.6M1112.3 2657v4.6M1116.77 2657v4.6M1120.64 2657v4.6M825.3 2643.2h-4M825.3 2630.2h-4M825.3 2617.2h-4M825.3 2604.2h-4M825.3 2578.2h-4M825.3 2565.2h-4M825.3 2552.2h-4M825.3 2539.2h-4M825.3 2513.2h-4M825.3 2500.2h-4M825.3 2487.2h-4M825.3 2474.2h-4M825.3 2448.2h-4M825.3 2435.2h-4M825.3 2422.2h-4M825.3 2409.2h-4" stroke="#3a3a3a" stroke-width="1.6" fill="none" opacity="0.42"/>
<path d="M860.3 2657v8.5M927 2657v8.5M993.7 2657v8.5M1060.4 2657v8.5M825.3 2591.2h-8M825.3 2526.2h-8M825.3 2461.2h-8M825.3 2396.2h-8" stroke="#222" stroke-width="2.2" fill="none" opacity="0.9"/>
<rect x="824.3" y="2380.5" width="299.7" height="277.5" fill="#141414"/>
<rect x="828.9" y="2384.1" width="291.1" height="270.3" fill="#fdfdfd"/>
<path d="M895.04 2654.9L895.04 2654.9L900.84 2653.18L906.71 2651.63L910.07 2647.48L913.38 2643.3L917.69 2638.41L921.72 2633.29L923.25 2628.36L924.36 2623.32L925.76 2618.36L926.72 2613.28L927.51 2608.27L928.26 2603.25L929.03 2598.24L930.12 2593.28L931.02 2588.29L931.72 2583.27L932.4 2578.7L933.1 2574.13L933.57 2569.53L934.15 2564.95L934.15 2560.3L935.02 2555.76L935.61 2551.18L936.06 2546.58L936.86 2542.03L936.78 2537.38L937.75 2532.84L937.94 2528.22L938.85 2523.68L938.76 2519.03L939.26 2514.45L940.06 2509.9L940.45 2505.31L940.96 2500.73L941.01 2496.11L941.74 2491.55L942.21 2486.97L942.82 2482.4L942.79 2477.78L943.4 2473.21L943.76 2468.2L944.39 2463.22L944.42 2458.18L944.76 2453.17L945.36 2448.19L946.04 2443.21L946.31 2438.19L946.73 2433.19L948.11 2427.69L949.11 2422.1L950.07 2416.52L953.4 2418.18L957.4 2414.85L962.74 2410.51L963.27 2415.35L963.56 2420.22L964.41 2425.03L965.07 2429.86L965.73 2434.53L966.61 2439.16L966.81 2443.9L967.47 2448.57L968.41 2453.2L969.72 2458.48L970.62 2463.83L971.73 2469.15L972.45 2474.54L973.41 2479.88L974.18 2484.62L974.11 2489.43L974.92 2494.17L975 2498.97L976 2503.68L976.56 2508.44L976.75 2513.23L977.24 2518L978.02 2522.74L978.32 2527.54L979.22 2532.26L979.74 2537.04L980.14 2541.82L980.75 2546.58L981.48 2551.58L981.94 2556.62L983.15 2561.55L983.36 2566.63L984.04 2571.64L985.08 2576.6L986.02 2581.58L986.7 2586.61L987.24 2591.66L988.69 2596.56L988.95 2601.66L990.09 2606.61L991.16 2611.35L992.97 2615.89L994.03 2620.63L995.48 2625.27L996.76 2629.96L998.89 2634.45L1000.97 2638.97L1003.43 2643.3L1007.46 2647.6L1011.76 2651.63L1017.62 2653.21L1023.44 2654.9L1023.44 2654.9Z" fill="#000000" stroke="#000000" stroke-width="1.2" stroke-linejoin="round"/>
<path d="M927.3 2541.3H1090.7" stroke="#000" stroke-width="3.5" fill="none"/><path d="M928.3 2534.1v14.4M1089.7 2534.1v14.4" stroke="#000" stroke-width="4.3" fill="none"/>
<path d="M1144.96 2657v4.6M1151.42 2657v4.6M1156.7 2657v4.6M1161.17 2657v4.6M1165.04 2657v4.6M1168.45 2657v4.6M1191.58 2657v4.6M1203.32 2657v4.6M1211.66 2657v4.6M1218.12 2657v4.6M1223.4 2657v4.6M1227.87 2657v4.6M1231.74 2657v4.6M1235.15 2657v4.6M1258.28 2657v4.6M1270.02 2657v4.6M1278.36 2657v4.6M1284.82 2657v4.6M1290.1 2657v4.6M1294.57 2657v4.6M1298.44 2657v4.6M1301.85 2657v4.6M1324.98 2657v4.6M1336.72 2657v4.6M1345.06 2657v4.6M1351.52 2657v4.6M1356.8 2657v4.6M1361.27 2657v4.6M1365.14 2657v4.6M1368.55 2657v4.6M1391.68 2657v4.6M1403.42 2657v4.6M1411.76 2657v4.6M1418.22 2657v4.6M1423.5 2657v4.6M1427.97 2657v4.6M1431.84 2657v4.6M1136.5 2642.8h-4M1136.5 2629.4h-4M1136.5 2616h-4M1136.5 2602.6h-4M1136.5 2575.8h-4M1136.5 2562.4h-4M1136.5 2549h-4M1136.5 2535.6h-4M1136.5 2508.8h-4M1136.5 2495.4h-4M1136.5 2482h-4M1136.5 2468.6h-4M1136.5 2441.8h-4M1136.5 2428.4h-4M1136.5 2415h-4M1136.5 2401.6h-4" stroke="#3a3a3a" stroke-width="1.6" fill="none" opacity="0.42"/>
<path d="M1171.5 2657v8.5M1238.2 2657v8.5M1304.9 2657v8.5M1371.6 2657v8.5M1136.5 2589.2h-8M1136.5 2522.2h-8M1136.5 2455.2h-8M1136.5 2388.2h-8" stroke="#222" stroke-width="2.2" fill="none" opacity="0.9"/>
<rect x="1135.5" y="2380.5" width="300" height="277.5" fill="#141414"/>
<rect x="1140.1" y="2384.1" width="291.4" height="270.3" fill="#fdfdfd"/>
<path d="M1206.86 2654.9L1206.86 2654.9L1212.71 2652.51L1218.53 2649.97L1222.86 2645.1L1226.87 2639.96L1229.23 2634.46L1231.03 2628.73L1233.54 2623.29L1234.67 2618.64L1235.48 2613.93L1236.35 2609.24L1237.31 2604.56L1238.54 2599.94L1239.78 2594.65L1240.71 2589.3L1241.65 2583.95L1242.34 2578.56L1243.55 2573.26L1243.9 2568.47L1244.62 2563.72L1245.35 2558.98L1245.67 2554.18L1246.68 2549.47L1246.94 2544.67L1247.55 2539.91L1248.41 2534.94L1248.55 2529.9L1249.41 2524.93L1249.87 2519.92L1250.09 2514.88L1250.85 2509.9L1251.35 2504.89L1251.88 2499.89L1252.22 2495.3L1252.85 2490.73L1253.08 2486.13L1253.77 2481.57L1254.06 2476.97L1254.43 2472.38L1255.07 2467.82L1255.22 2463.21L1256.02 2458.21L1256.47 2453.17L1257.48 2448.21L1257.98 2443.18L1258.69 2438.17L1259.55 2433.19L1260.56 2427.55L1262.39 2422.11L1263.56 2416.52L1267.56 2414.85L1268.91 2419.8L1269.53 2424.91L1270.89 2429.86L1272.06 2434.47L1272.35 2439.24L1273.3 2443.9L1274.3 2448.54L1275.23 2453.2L1276.1 2458.53L1277.05 2463.86L1277.81 2469.21L1278.73 2474.54L1279.56 2479.88L1279.92 2484.67L1280.71 2489.41L1281.36 2494.16L1282.1 2498.91L1282.37 2503.71L1282.9 2508.48L1283.57 2513.23L1284.45 2517.97L1285.19 2522.73L1285.89 2527.5L1286.58 2532.26L1287.08 2537.06L1287.63 2541.85L1288.57 2546.58L1289.27 2551.6L1289.9 2556.64L1291.14 2561.58L1291.98 2566.58L1292.52 2571.63L1293.57 2576.6L1294.73 2581.98L1295.99 2587.33L1297.25 2592.68L1298.9 2597.94L1300.24 2603.28L1301.6 2607.94L1302.85 2612.63L1304.3 2617.27L1305.61 2621.94L1306.91 2626.62L1308.85 2632.29L1311.52 2637.67L1313.58 2643.3L1318.78 2647.23L1323.59 2651.63L1328.51 2653.52L1333.59 2654.9L1333.59 2654.9Z" fill="#696969" stroke="#0a0a0a" stroke-width="1.5" stroke-linejoin="round"/>
<path d="M1240 2541.3H1402.3" stroke="#000" stroke-width="3.5" fill="none"/><path d="M1241 2534.1v14.4M1401.3 2534.1v14.4" stroke="#000" stroke-width="4.3" fill="none"/>
<path d="M196.8 658.3H284.8" stroke="#000" stroke-width="5.4" fill="none"/>
<path d="M279.3 640.1L316.3 658.3L279.3 676.5Z" fill="#000"/>
<path d="M203.3 1310.7H291.3" stroke="#000" stroke-width="5.4" fill="none"/>
<path d="M285.8 1292.5L322.8 1310.7L285.8 1328.9Z" fill="#000"/>
<path d="M203.3 2005.3H291.3" stroke="#000" stroke-width="5.4" fill="none"/>
<path d="M285.8 1987.1L322.8 2005.3L285.8 2023.5Z" fill="#000"/>
<path d="M203.3 2694.7H291.3" stroke="#000" stroke-width="5.4" fill="none"/>
<path d="M285.8 2676.5L322.8 2694.7L285.8 2712.9Z" fill="#000"/>
<rect x="1796" y="63.9" width="350.3" height="30.6" fill="#5959f6"/>
<path d="M2145.3 79.2H2159" stroke="#5959f6" stroke-width="5" fill="none"/><path d="M2157.4 72v14.4" stroke="#5959f6" stroke-width="4" fill="none"/>
<rect x="1796" y="111" width="369.7" height="30.6" fill="#0000ff"/>
<path d="M2164.7 126.3H2170.3" stroke="#0000ff" stroke-width="5" fill="none"/><path d="M2168.7 119.1v14.4" stroke="#0000ff" stroke-width="4" fill="none"/>
<rect x="1796" y="157.5" width="268.7" height="30.6" fill="#c6ddf8"/>
<path d="M2063.7 172.8H2075.7" stroke="#c6ddf8" stroke-width="5" fill="none"/><path d="M2074.1 165.6v14.4" stroke="#c6ddf8" stroke-width="4" fill="none"/>
<rect x="1796" y="204.7" width="272" height="30.6" fill="#000080"/>
<path d="M2067 220H2072.3" stroke="#000080" stroke-width="5" fill="none"/><path d="M2070.7 212.8v14.4" stroke="#000080" stroke-width="4" fill="none"/>
<rect x="1796" y="251.4" width="293" height="30.6" fill="#5959f6"/>
<path d="M2088 266.7H2097" stroke="#5959f6" stroke-width="5" fill="none"/><path d="M2095.4 259.5v14.4" stroke="#5959f6" stroke-width="4" fill="none"/>
<rect x="1796" y="298.7" width="407.7" height="30.6" fill="#0000ff"/>
<path d="M2202.7 314H2216.3" stroke="#0000ff" stroke-width="5" fill="none"/><path d="M2214.7 306.8v14.4" stroke="#0000ff" stroke-width="4" fill="none"/>
<rect x="1796" y="345.2" width="293.7" height="30.6" fill="#c6ddf8"/>
<path d="M2088.7 360.5H2096.3" stroke="#c6ddf8" stroke-width="5" fill="none"/><path d="M2094.7 353.3v14.4" stroke="#c6ddf8" stroke-width="4" fill="none"/>
<rect x="1796" y="392.7" width="277" height="30.6" fill="#000080"/>
<path d="M2072 408H2083" stroke="#000080" stroke-width="5" fill="none"/><path d="M2081.4 400.8v14.4" stroke="#000080" stroke-width="4" fill="none"/>
<path d="M1563 242.3H2353.5" stroke="#000080" stroke-width="4" stroke-dasharray="8.2 13.55" fill="none"/>
<path d="M1796 52.7V453.3" stroke="#000080" stroke-width="3.4" fill="none"/>
<path d="M1794.3 429.3H2361.6" stroke="#000080" stroke-width="4.0" fill="none"/>
<path d="M1936.3 429.3v24M2077.3 429.3v24M2218 429.3v24M2359.7 429.3v24" stroke="#000080" stroke-width="3.6" fill="none"/>
<path d="M1774 79.2H1796M1774 126.3H1796M1774 172.8H1796M1774 220H1796M1774 266.7H1796M1774 314H1796M1774 360.5H1796M1774 408H1796" stroke="#000080" stroke-width="3.2" fill="none"/>
<path d="M2187 85H2207V127.5H2187" stroke="#000080" stroke-width="5.0" fill="none"/>
<path d="M2234.7 278.9H2253.7V322.7H2234.7" stroke="#000080" stroke-width="3.2" fill="none"/>
<path d="M2366.8 65V209.3M2366.8 264.3V408.6" stroke="#000080" stroke-width="3.4" fill="none"/>
<rect x="1796" y="715.9" width="375.3" height="30.6" fill="#5959f6"/>
<rect x="1796" y="763" width="375.3" height="30.6" fill="#0000ff"/>
<rect x="1796" y="809.5" width="163" height="30.6" fill="#c6ddf8"/>
<path d="M1958 824.8H1964" stroke="#c6ddf8" stroke-width="5" fill="none"/><path d="M1962.4 817.6v14.4" stroke="#c6ddf8" stroke-width="4" fill="none"/>
<rect x="1796" y="856.7" width="148.7" height="30.6" fill="#000080"/>
<path d="M1943.7 872H1947.3" stroke="#000080" stroke-width="5" fill="none"/><path d="M1945.7 864.8v14.4" stroke="#000080" stroke-width="4" fill="none"/>
<rect x="1796" y="903.4" width="173" height="30.6" fill="#5959f6"/>
<path d="M1968 918.7H1972" stroke="#5959f6" stroke-width="5" fill="none"/><path d="M1970.4 911.5v14.4" stroke="#5959f6" stroke-width="4" fill="none"/>
<rect x="1796" y="950.7" width="375.3" height="30.6" fill="#0000ff"/>
<path d="M2170.3 966H2174" stroke="#0000ff" stroke-width="5" fill="none"/><path d="M2172.4 958.8v14.4" stroke="#0000ff" stroke-width="4" fill="none"/>
<rect x="1796" y="997.2" width="156.3" height="30.6" fill="#c6ddf8"/>
<path d="M1951.3 1012.5H1955.7" stroke="#c6ddf8" stroke-width="5" fill="none"/><path d="M1954.1 1005.3v14.4" stroke="#c6ddf8" stroke-width="4" fill="none"/>
<rect x="1796" y="1044.7" width="143.7" height="30.6" fill="#000080"/>
<path d="M1938.7 1060H1944" stroke="#000080" stroke-width="5" fill="none"/><path d="M1942.4 1052.8v14.4" stroke="#000080" stroke-width="4" fill="none"/>
<path d="M1563 894.3H2353.5" stroke="#000080" stroke-width="4" stroke-dasharray="8.2 13.55" fill="none"/>
<path d="M1796 704.7V1105.3" stroke="#000080" stroke-width="3.4" fill="none"/>
<path d="M1794.3 1081.3H2361.6" stroke="#000080" stroke-width="4.6" fill="none"/>
<path d="M1983 1081.3v24M2171.3 1081.3v24M2359.7 1081.3v24" stroke="#000080" stroke-width="3.6" fill="none"/>
<path d="M1774 731.2H1796M1774 778.3H1796M1774 824.8H1796M1774 872H1796M1774 918.7H1796M1774 966H1796M1774 1012.5H1796M1774 1060H1796" stroke="#000080" stroke-width="3.2" fill="none"/>
<path d="M2187 737H2207V779.5H2187" stroke="#000080" stroke-width="5.0" fill="none"/>
<path d="M2196.3 931.9H2215.4V973.7H2196.3" stroke="#000080" stroke-width="3.2" fill="none"/>
<path d="M2366.8 717V861.3M2366.8 916.3V1060.6" stroke="#000080" stroke-width="3.4" fill="none"/>
<rect x="1796" y="1429" width="392" height="30.6" fill="#5959f6"/>
<path d="M2187 1444.3H2193" stroke="#5959f6" stroke-width="5" fill="none"/><path d="M2191.4 1437.1v14.4" stroke="#5959f6" stroke-width="4" fill="none"/>
<rect x="1796" y="1476.1" width="392" height="30.6" fill="#0000ff"/>
<path d="M2187 1491.4H2190.3" stroke="#0000ff" stroke-width="5" fill="none"/><path d="M2188.7 1484.2v14.4" stroke="#0000ff" stroke-width="4" fill="none"/>
<rect x="1796" y="1522.6" width="186.3" height="30.6" fill="#c6ddf8"/>
<path d="M1981.3 1537.9H1985.7" stroke="#c6ddf8" stroke-width="5" fill="none"/><path d="M1984.1 1530.7v14.4" stroke="#c6ddf8" stroke-width="4" fill="none"/>
<rect x="1796" y="1569.8" width="176.3" height="30.6" fill="#000080"/>
<path d="M1971.3 1585.1H1977.3" stroke="#000080" stroke-width="5" fill="none"/><path d="M1975.7 1577.9v14.4" stroke="#000080" stroke-width="4" fill="none"/>
<rect x="1796" y="1616.5" width="274.3" height="30.6" fill="#5959f6"/>
<path d="M2069.3 1631.8H2073" stroke="#5959f6" stroke-width="5" fill="none"/><path d="M2071.4 1624.6v14.4" stroke="#5959f6" stroke-width="4" fill="none"/>
<rect x="1796" y="1663.8" width="405.3" height="30.6" fill="#0000ff"/>
<path d="M2200.3 1679.1H2203.7" stroke="#0000ff" stroke-width="5" fill="none"/><path d="M2202.1 1671.9v14.4" stroke="#0000ff" stroke-width="4" fill="none"/>
<rect x="1796" y="1710.3" width="197.7" height="30.6" fill="#c6ddf8"/>
<path d="M1992.7 1725.6H1996.3" stroke="#c6ddf8" stroke-width="5" fill="none"/><path d="M1994.7 1718.4v14.4" stroke="#c6ddf8" stroke-width="4" fill="none"/>
<rect x="1796" y="1757.8" width="182" height="30.6" fill="#000080"/>
<path d="M1977 1773.1H1985.7" stroke="#000080" stroke-width="5" fill="none"/><path d="M1984.1 1765.9v14.4" stroke="#000080" stroke-width="4" fill="none"/>
<path d="M1563 1607.4H2353.5" stroke="#000080" stroke-width="4" stroke-dasharray="8.2 13.55" fill="none"/>
<path d="M1796 1417.8V1818.4" stroke="#000080" stroke-width="3.4" fill="none"/>
<path d="M1794.3 1794.4H2361.6" stroke="#000080" stroke-width="3.0" fill="none"/>
<path d="M2030 1794.4v24M2265.5 1794.4v24" stroke="#000080" stroke-width="3.6" fill="none"/>
<path d="M1774 1444.3H1796M1774 1491.4H1796M1774 1537.9H1796M1774 1585.1H1796M1774 1631.8H1796M1774 1679.1H1796M1774 1725.6H1796M1774 1773.1H1796" stroke="#000080" stroke-width="3.2" fill="none"/>
<path d="M2209 1451.1H2229V1492.6H2209" stroke="#000080" stroke-width="5.0" fill="none"/>
<path d="M2234.7 1644H2253.7V1687.8H2234.7" stroke="#000080" stroke-width="3.2" fill="none"/>
<path d="M2366.8 1430.1V1574.4M2366.8 1629.4V1773.7" stroke="#000080" stroke-width="3.4" fill="none"/>
<rect x="1796" y="2136.4" width="440.3" height="30.6" fill="#5959f6"/>
<path d="M2235.3 2151.7H2239" stroke="#5959f6" stroke-width="5" fill="none"/><path d="M2237.4 2144.5v14.4" stroke="#5959f6" stroke-width="4" fill="none"/>
<rect x="1796" y="2183.5" width="446.3" height="30.6" fill="#0000ff"/>
<path d="M2241.3 2198.8H2247" stroke="#0000ff" stroke-width="5" fill="none"/><path d="M2245.4 2191.6v14.4" stroke="#0000ff" stroke-width="4" fill="none"/>
<rect x="1796" y="2230" width="231" height="30.6" fill="#c6ddf8"/>
<path d="M2026 2245.3H2032" stroke="#c6ddf8" stroke-width="5" fill="none"/><path d="M2030.4 2238.1v14.4" stroke="#c6ddf8" stroke-width="4" fill="none"/>
<rect x="1796" y="2277.2" width="223" height="30.6" fill="#000080"/>
<path d="M2018 2292.5H2023.7" stroke="#000080" stroke-width="5" fill="none"/><path d="M2022.1 2285.3v14.4" stroke="#000080" stroke-width="4" fill="none"/>
<rect x="1796" y="2323.9" width="326.3" height="30.6" fill="#5959f6"/>
<path d="M2121.3 2339.2H2129.7" stroke="#5959f6" stroke-width="5" fill="none"/><path d="M2128.1 2332v14.4" stroke="#5959f6" stroke-width="4" fill="none"/>
<rect x="1796" y="2371.2" width="457" height="30.6" fill="#0000ff"/>
<path d="M2252 2386.5H2255.7" stroke="#0000ff" stroke-width="5" fill="none"/><path d="M2254.1 2379.3v14.4" stroke="#0000ff" stroke-width="4" fill="none"/>
<rect x="1796" y="2417.7" width="206.3" height="30.6" fill="#c6ddf8"/>
<path d="M2001.3 2433H2007" stroke="#c6ddf8" stroke-width="5" fill="none"/><path d="M2005.4 2425.8v14.4" stroke="#c6ddf8" stroke-width="4" fill="none"/>
<rect x="1796" y="2465.2" width="187" height="30.6" fill="#000080"/>
<path d="M1982 2480.5H1988" stroke="#000080" stroke-width="5" fill="none"/><path d="M1986.4 2473.3v14.4" stroke="#000080" stroke-width="4" fill="none"/>
<path d="M1563 2314.8H2353.5" stroke="#000080" stroke-width="4" stroke-dasharray="8.2 13.55" fill="none"/>
<path d="M1796 2125.2V2525.8" stroke="#000080" stroke-width="3.4" fill="none"/>
<path d="M1794.3 2501.8H2361.6" stroke="#000080" stroke-width="5.0" fill="none"/>
<path d="M1983 2501.8v24M2171.3 2501.8v24M2359.7 2501.8v24" stroke="#000080" stroke-width="3.6" fill="none"/>
<path d="M1774 2151.7H1796M1774 2198.8H1796M1774 2245.3H1796M1774 2292.5H1796M1774 2339.2H1796M1774 2386.5H1796M1774 2433H1796M1774 2480.5H1796" stroke="#000080" stroke-width="3.2" fill="none"/>
<path d="M2260.3 2157H2280V2199H2260.3" stroke="#000080" stroke-width="5.0" fill="none"/>
<path d="M2269.7 2352.1H2289.4V2392.9H2269.7" stroke="#000080" stroke-width="3.2" fill="none"/>
<path d="M2366.8 2137.5V2281.8M2366.8 2336.8V2481.1" stroke="#000080" stroke-width="3.4" fill="none"/>
<text transform="translate(339.59 197.4) scale(1.02 1)" font-size="47.5" fill="#000">39.7</text>
<text transform="translate(664.64 197.4) scale(1.02 1)" font-size="47.5" fill="#000">41.6</text>
<text transform="translate(986.29 197.4) scale(1.02 1)" font-size="47.5" fill="#000">56.6</text>
<text transform="translate(1298.34 197.4) scale(1.02 1)" font-size="47.5" fill="#000">41.4</text>
<text transform="translate(339.59 488.7) scale(1.02 1)" font-size="47.5" fill="#000">38.7</text>
<text transform="translate(663.89 488.7) scale(1.02 1)" font-size="47.5" fill="#000">38.1</text>
<text transform="translate(986.29 488.7) scale(1.02 1)" font-size="47.5" fill="#000">52.4</text>
<text transform="translate(1298.34 488.7) scale(1.02 1)" font-size="47.5" fill="#000">49.9</text>
<text transform="translate(367.29 842.4) scale(1.02 1)" font-size="47.5" fill="#000">38.6</text>
<text transform="translate(692.04 842.4) scale(1.02 1)" font-size="47.5" fill="#000">41.8</text>
<text transform="translate(1012.83 842.4) scale(1.02 1)" font-size="47.5" fill="#000">99.8</text>
<text transform="translate(1326.04 842.4) scale(1.02 1)" font-size="47.5" fill="#000">45.8</text>
<text transform="translate(367.29 1133.7) scale(1.02 1)" font-size="47.5" fill="#000">39.5</text>
<text transform="translate(692.04 1133.7) scale(1.02 1)" font-size="47.5" fill="#000">43.1</text>
<text transform="translate(1012.83 1133.7) scale(1.02 1)" font-size="47.5" fill="#000">99.8</text>
<text transform="translate(1324.83 1133.7) scale(1.02 1)" font-size="47.5" fill="#000">99.8</text>
<text transform="translate(361.29 1550.2) scale(1.02 1)" font-size="47.5" fill="#000">37.7</text>
<text transform="translate(687.04 1550.2) scale(1.02 1)" font-size="47.5" fill="#000">42.2</text>
<text transform="translate(1007.59 1550.2) scale(1.02 1)" font-size="47.5" fill="#000">86.2</text>
<text transform="translate(1320.29 1550.2) scale(1.02 1)" font-size="47.5" fill="#000">58.8</text>
<text transform="translate(361.29 1840.7) scale(1.02 1)" font-size="47.5" fill="#000">37.6</text>
<text transform="translate(686.29 1840.7) scale(1.02 1)" font-size="47.5" fill="#000">39.8</text>
<text transform="translate(1007.59 1840.7) scale(1.02 1)" font-size="47.5" fill="#000">83.4</text>
<text transform="translate(1320.29 1840.7) scale(1.02 1)" font-size="47.5" fill="#000">83.0</text>
<text transform="translate(358.59 2209.7) scale(1.02 1)" font-size="47.5" fill="#000">39.9</text>
<text transform="translate(684.34 2209.7) scale(1.02 1)" font-size="47.5" fill="#000">44.1</text>
<text transform="translate(1004.53 2209.7) scale(1.02 1)" font-size="47.5" fill="#000">97.1</text>
<text transform="translate(1316.83 2209.7) scale(1.02 1)" font-size="47.5" fill="#000">69.0</text>
<text transform="translate(358.84 2501.3) scale(1.02 1)" font-size="47.5" fill="#000">47.8</text>
<text transform="translate(684.34 2501.3) scale(1.02 1)" font-size="47.5" fill="#000">49.7</text>
<text transform="translate(1004.53 2501.3) scale(1.02 1)" font-size="47.5" fill="#000">95.8</text>
<text transform="translate(1316.83 2501.3) scale(1.02 1)" font-size="47.5" fill="#000">94.1</text>
<text transform="translate(306.66 43.2) scale(1.01 1)" font-size="47.7" fill="#000">CON</text>
<text transform="translate(619.61 43.2) scale(1.01 1)" font-size="47.7" fill="#000" letter-spacing="-2">CM1</text>
<text transform="translate(919.19 43.2) scale(1.01 1)" font-size="47.7" fill="#000">LPS</text>
<text transform="translate(1171.39 43.2) scale(1.01 1)" font-size="47.7" fill="#000">CM1+LPS</text>
<text transform="translate(9.55 185.4) scale(0.98 1)" font-size="48.7" fill="#000">Control</text>
<text transform="translate(10.65 243.9) scale(0.98 1)" font-size="48.7" fill="#000">shRNA</text>
<text transform="translate(33.44 470.4) scale(0.98 1)" font-size="48.7" fill="#000">Tollip</text>
<text transform="translate(10.65 529.4) scale(0.98 1)" font-size="48.7" fill="#000">shRNA</text>
<text transform="translate(9.55 856.4) scale(0.98 1)" font-size="48.7" fill="#000">Control</text>
<text transform="translate(10.65 915.4) scale(0.98 1)" font-size="48.7" fill="#000">shRNA</text>
<text transform="translate(33.44 1142.9) scale(0.98 1)" font-size="48.7" fill="#000">Tollip</text>
<text transform="translate(10.65 1202.9) scale(0.98 1)" font-size="48.7" fill="#000">shRNA</text>
<text transform="translate(9.55 1539.4) scale(0.98 1)" font-size="48.7" fill="#000">Control</text>
<text transform="translate(10.65 1597.4) scale(0.98 1)" font-size="48.7" fill="#000">shRNA</text>
<text transform="translate(33.44 1825.4) scale(0.98 1)" font-size="48.7" fill="#000">Tollip</text>
<text transform="translate(10.65 1883.4) scale(0.98 1)" font-size="48.7" fill="#000">shRNA</text>
<text transform="translate(9.55 2230.9) scale(0.98 1)" font-size="48.7" fill="#000">Control</text>
<text transform="translate(10.65 2289.9) scale(0.98 1)" font-size="48.7" fill="#000">shRNA</text>
<text transform="translate(33.44 2518.4) scale(0.98 1)" font-size="48.7" fill="#000">Tollip</text>
<text transform="translate(10.65 2576.1) scale(0.98 1)" font-size="48.7" fill="#000">shRNA</text>
<text transform="translate(335.95 677.8) scale(0.98 1)" font-size="49" fill="#000">CD80</text>
<text transform="translate(339.45 1330.1) scale(0.98 1)" font-size="49" fill="#000">CD86</text>
<text transform="translate(340.65 2025.1) scale(0.98 1)" font-size="49" fill="#000">MHC-I</text>
<text transform="translate(340.65 2715.3) scale(0.98 1)" font-size="49" fill="#000">MHC-II</text>
<text transform="translate(1540.53 94.8) scale(1.02 1)" font-size="47.2" fill="#000080" stroke="#000080" stroke-width="0.3">CM1+LPS</text>
<text transform="translate(1670.55 141.9) scale(1.02 1)" font-size="47.2" fill="#000080" stroke="#000080" stroke-width="0.3">LPS</text>
<text transform="translate(1661.4 188.4) scale(1.02 1)" font-size="47.2" fill="#000080" stroke="#000080" stroke-width="0.3" letter-spacing="-2">CM1</text>
<text transform="translate(1656.44 235.6) scale(1.02 1)" font-size="47.2" fill="#000080" stroke="#000080" stroke-width="0.3">CON</text>
<text transform="translate(1540.53 282.3) scale(1.02 1)" font-size="47.2" fill="#000080" stroke="#000080" stroke-width="0.3">CM1+LPS</text>
<text transform="translate(1670.55 329.6) scale(1.02 1)" font-size="47.2" fill="#000080" stroke="#000080" stroke-width="0.3">LPS</text>
<text transform="translate(1661.4 376.1) scale(1.02 1)" font-size="47.2" fill="#000080" stroke="#000080" stroke-width="0.3" letter-spacing="-2">CM1</text>
<text transform="translate(1656.44 423.6) scale(1.02 1)" font-size="47.2" fill="#000080" stroke="#000080" stroke-width="0.3">CON</text>
<text transform="translate(1782.49 507.6) scale(1.02 1)" font-size="47" fill="#000080" stroke="#000080" stroke-width="0.3">0</text>
<text transform="translate(1909.06 507.6) scale(1.02 1)" font-size="47" fill="#000080" stroke="#000080" stroke-width="0.3">20</text>
<text transform="translate(2050.81 507.6) scale(1.02 1)" font-size="47" fill="#000080" stroke="#000080" stroke-width="0.3">40</text>
<text transform="translate(2190.76 507.6) scale(1.02 1)" font-size="47" fill="#000080" stroke="#000080" stroke-width="0.3">60</text>
<text transform="translate(2332.83 507.6) scale(1.02 1)" font-size="47" fill="#000080" stroke="#000080" stroke-width="0.3">80</text>
<text transform="translate(1944.29 605.4) scale(0.99 1)" font-size="60.5" fill="#000080" font-weight="bold">CD80 (%)</text>
<text transform="translate(2224.17 124.2) scale(1 1)" font-size="46.5" fill="#000080" stroke="#000080" stroke-width="0.3" font-style="italic" letter-spacing="1">n.s.</text>
<text transform="translate(2264.33 329.9) scale(1 1)" font-size="50" fill="#000080" stroke="#000080" stroke-width="0.3" letter-spacing="7.8">***</text>
<text transform="translate(2387.6 64.68) rotate(90) scale(1 1.05)" font-size="45.93" fill="#000080" stroke="#000080" stroke-width="0.7">shRNA</text>
<text transform="translate(2447.6 63.78) rotate(90) scale(1 1.08)" font-size="45.23" fill="#000080" stroke="#000080" stroke-width="0.7">Control</text>
<text transform="translate(2387.6 264.48) rotate(90) scale(1 1.05)" font-size="45.93" fill="#000080" stroke="#000080" stroke-width="0.7">shRNA</text>
<text transform="translate(2447.6 286.32) rotate(90) scale(1 1.11)" font-size="43.37" fill="#000080" stroke="#000080" stroke-width="0.7">Tollip</text>
<text transform="translate(1540.53 746.8) scale(1.02 1)" font-size="47.2" fill="#000080" stroke="#000080" stroke-width="0.3">CM1+LPS</text>
<text transform="translate(1670.55 793.9) scale(1.02 1)" font-size="47.2" fill="#000080" stroke="#000080" stroke-width="0.3">LPS</text>
<text transform="translate(1661.4 840.4) scale(1.02 1)" font-size="47.2" fill="#000080" stroke="#000080" stroke-width="0.3" letter-spacing="-2">CM1</text>
<text transform="translate(1656.44 887.6) scale(1.02 1)" font-size="47.2" fill="#000080" stroke="#000080" stroke-width="0.3">CON</text>
<text transform="translate(1540.53 934.3) scale(1.02 1)" font-size="47.2" fill="#000080" stroke="#000080" stroke-width="0.3">CM1+LPS</text>
<text transform="translate(1670.55 981.6) scale(1.02 1)" font-size="47.2" fill="#000080" stroke="#000080" stroke-width="0.3">LPS</text>
<text transform="translate(1661.4 1028.1) scale(1.02 1)" font-size="47.2" fill="#000080" stroke="#000080" stroke-width="0.3" letter-spacing="-2">CM1</text>
<text transform="translate(1656.44 1075.6) scale(1.02 1)" font-size="47.2" fill="#000080" stroke="#000080" stroke-width="0.3">CON</text>
<text transform="translate(1782.49 1159.6) scale(1.02 1)" font-size="47" fill="#000080" stroke="#000080" stroke-width="0.3">0</text>
<text transform="translate(1956.13 1159.6) scale(1.02 1)" font-size="47" fill="#000080" stroke="#000080" stroke-width="0.3">50</text>
<text transform="translate(2130.33 1159.6) scale(1.02 1)" font-size="47" fill="#000080" stroke="#000080" stroke-width="0.3">100</text>
<text transform="translate(2318.73 1159.6) scale(1.02 1)" font-size="47" fill="#000080" stroke="#000080" stroke-width="0.3">150</text>
<text transform="translate(1944.14 1257.4) scale(0.99 1)" font-size="60.5" fill="#000080" font-weight="bold">CD86 (%)</text>
<text transform="translate(2224.17 776.2) scale(1 1)" font-size="46.5" fill="#000080" stroke="#000080" stroke-width="0.3" font-style="italic" letter-spacing="1">n.s.</text>
<text transform="translate(2225.13 982.2) scale(1 1)" font-size="50" fill="#000080" stroke="#000080" stroke-width="0.3" letter-spacing="7.8">***</text>
<text transform="translate(2387.6 716.68) rotate(90) scale(1 1.05)" font-size="45.93" fill="#000080" stroke="#000080" stroke-width="0.7">shRNA</text>
<text transform="translate(2447.6 715.78) rotate(90) scale(1 1.08)" font-size="45.23" fill="#000080" stroke="#000080" stroke-width="0.7">Control</text>
<text transform="translate(2387.6 916.48) rotate(90) scale(1 1.05)" font-size="45.93" fill="#000080" stroke="#000080" stroke-width="0.7">shRNA</text>
<text transform="translate(2447.6 938.32) rotate(90) scale(1 1.11)" font-size="43.37" fill="#000080" stroke="#000080" stroke-width="0.7">Tollip</text>
<text transform="translate(1540.53 1459.9) scale(1.02 1)" font-size="47.2" fill="#000080" stroke="#000080" stroke-width="0.3">CM1+LPS</text>
<text transform="translate(1670.55 1507) scale(1.02 1)" font-size="47.2" fill="#000080" stroke="#000080" stroke-width="0.3">LPS</text>
<text transform="translate(1661.4 1553.5) scale(1.02 1)" font-size="47.2" fill="#000080" stroke="#000080" stroke-width="0.3" letter-spacing="-2">CM1</text>
<text transform="translate(1656.44 1600.7) scale(1.02 1)" font-size="47.2" fill="#000080" stroke="#000080" stroke-width="0.3">CON</text>
<text transform="translate(1540.53 1647.4) scale(1.02 1)" font-size="47.2" fill="#000080" stroke="#000080" stroke-width="0.3">CM1+LPS</text>
<text transform="translate(1670.55 1694.7) scale(1.02 1)" font-size="47.2" fill="#000080" stroke="#000080" stroke-width="0.3">LPS</text>
<text transform="translate(1661.4 1741.2) scale(1.02 1)" font-size="47.2" fill="#000080" stroke="#000080" stroke-width="0.3" letter-spacing="-2">CM1</text>
<text transform="translate(1656.44 1788.7) scale(1.02 1)" font-size="47.2" fill="#000080" stroke="#000080" stroke-width="0.3">CON</text>
<text transform="translate(1782.49 1872.7) scale(1.02 1)" font-size="47" fill="#000080" stroke="#000080" stroke-width="0.3">0</text>
<text transform="translate(2003.13 1872.7) scale(1.02 1)" font-size="47" fill="#000080" stroke="#000080" stroke-width="0.3">50</text>
<text transform="translate(2224.53 1872.7) scale(1.02 1)" font-size="47" fill="#000080" stroke="#000080" stroke-width="0.3">100</text>
<text transform="translate(1933.39 1970.5) scale(0.99 1)" font-size="60.5" fill="#000080" font-weight="bold">MHC-I (%)</text>
<text transform="translate(2246.67 1489.3) scale(1 1)" font-size="46.5" fill="#000080" stroke="#000080" stroke-width="0.3" font-style="italic" letter-spacing="1">n.s.</text>
<text transform="translate(2264.33 1690.8) scale(1 1)" font-size="50" fill="#000080" stroke="#000080" stroke-width="0.3" letter-spacing="7.8">***</text>
<text transform="translate(2387.6 1429.78) rotate(90) scale(1 1.05)" font-size="45.93" fill="#000080" stroke="#000080" stroke-width="0.7">shRNA</text>
<text transform="translate(2447.6 1428.88) rotate(90) scale(1 1.08)" font-size="45.23" fill="#000080" stroke="#000080" stroke-width="0.7">Control</text>
<text transform="translate(2387.6 1629.58) rotate(90) scale(1 1.05)" font-size="45.93" fill="#000080" stroke="#000080" stroke-width="0.7">shRNA</text>
<text transform="translate(2447.6 1651.42) rotate(90) scale(1 1.11)" font-size="43.37" fill="#000080" stroke="#000080" stroke-width="0.7">Tollip</text>
<text transform="translate(1540.53 2167.3) scale(1.02 1)" font-size="47.2" fill="#000080" stroke="#000080" stroke-width="0.3">CM1+LPS</text>
<text transform="translate(1670.55 2214.4) scale(1.02 1)" font-size="47.2" fill="#000080" stroke="#000080" stroke-width="0.3">LPS</text>
<text transform="translate(1661.4 2260.9) scale(1.02 1)" font-size="47.2" fill="#000080" stroke="#000080" stroke-width="0.3" letter-spacing="-2">CM1</text>
<text transform="translate(1656.44 2308.1) scale(1.02 1)" font-size="47.2" fill="#000080" stroke="#000080" stroke-width="0.3">CON</text>
<text transform="translate(1540.53 2354.8) scale(1.02 1)" font-size="47.2" fill="#000080" stroke="#000080" stroke-width="0.3">CM1+LPS</text>
<text transform="translate(1670.55 2402.1) scale(1.02 1)" font-size="47.2" fill="#000080" stroke="#000080" stroke-width="0.3">LPS</text>
<text transform="translate(1661.4 2448.6) scale(1.02 1)" font-size="47.2" fill="#000080" stroke="#000080" stroke-width="0.3" letter-spacing="-2">CM1</text>
<text transform="translate(1656.44 2496.1) scale(1.02 1)" font-size="47.2" fill="#000080" stroke="#000080" stroke-width="0.3">CON</text>
<text transform="translate(1782.49 2580.1) scale(1.02 1)" font-size="47" fill="#000080" stroke="#000080" stroke-width="0.3">0</text>
<text transform="translate(1956.51 2580.1) scale(1.02 1)" font-size="47" fill="#000080" stroke="#000080" stroke-width="0.3">40</text>
<text transform="translate(2144.43 2580.1) scale(1.02 1)" font-size="47" fill="#000080" stroke="#000080" stroke-width="0.3">80</text>
<text transform="translate(2318.73 2580.1) scale(1.02 1)" font-size="47" fill="#000080" stroke="#000080" stroke-width="0.3">120</text>
<text transform="translate(1925.4 2677.9) scale(0.99 1)" font-size="60.5" fill="#000080" font-weight="bold">MHC-II (%)</text>
<text transform="translate(2297.67 2196.7) scale(1 1)" font-size="46.5" fill="#000080" stroke="#000080" stroke-width="0.3" font-style="italic" letter-spacing="1">n.s.</text>
<text transform="translate(2293.48 2401.2) scale(1 1)" font-size="50" fill="#000080" stroke="#000080" stroke-width="0.3" letter-spacing="7.8">***</text>
<text transform="translate(2387.6 2137.18) rotate(90) scale(1 1.05)" font-size="45.93" fill="#000080" stroke="#000080" stroke-width="0.7">shRNA</text>
<text transform="translate(2447.6 2136.28) rotate(90) scale(1 1.08)" font-size="45.23" fill="#000080" stroke="#000080" stroke-width="0.7">Control</text>
<text transform="translate(2387.6 2336.98) rotate(90) scale(1 1.05)" font-size="45.93" fill="#000080" stroke="#000080" stroke-width="0.7">shRNA</text>
<text transform="translate(2447.6 2358.82) rotate(90) scale(1 1.11)" font-size="43.37" fill="#000080" stroke="#000080" stroke-width="0.7">Tollip</text>
</svg>
</body></html>
